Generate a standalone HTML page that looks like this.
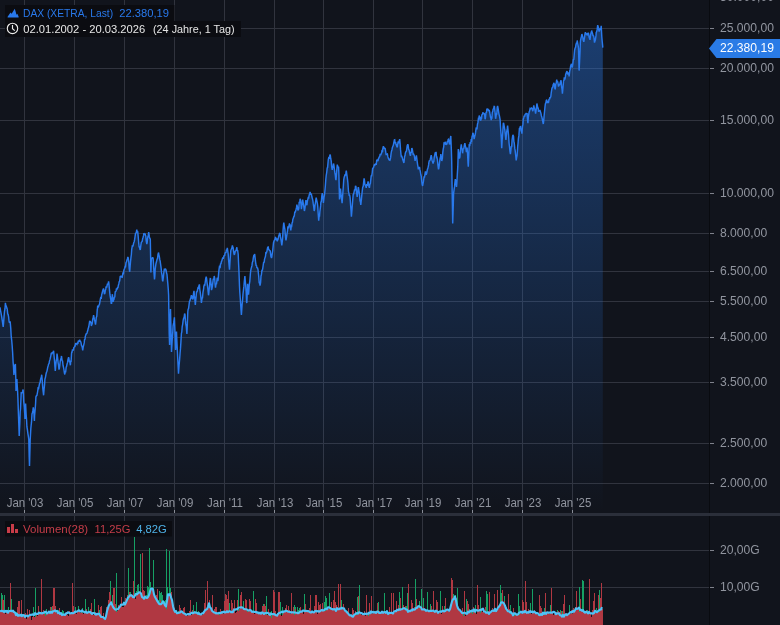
<!DOCTYPE html><html><head><meta charset="utf-8"><title>DAX Chart</title><style>
html,body{margin:0;padding:0;background:#11141c;}
body{width:780px;height:625px;position:relative;overflow:hidden;font-family:"Liberation Sans",sans-serif;}
.hb{position:absolute;background:#0b0c11;}
.t{position:absolute;white-space:nowrap;line-height:1;}
.yl{font-size:12.6px;color:#91959f;left:719.5px;transform:scaleX(0.962);transform-origin:0 0;}
.xl{font-size:12px;color:#91959f;transform:translateX(-50%) scaleX(0.957);top:497.1px;}
.h{font-size:11.2px;}

</style></head><body>
<svg width="780" height="625" viewBox="0 0 780 625" style="position:absolute;left:0;top:0">
<defs><linearGradient id="g" x1="0" y1="0" x2="0" y2="513" gradientUnits="userSpaceOnUse"><stop offset="0" stop-color="#2a7df0" stop-opacity="0.42"/><stop offset="1" stop-color="#2a7df0" stop-opacity="0"/></linearGradient></defs>
<path d="M24.5,0V625 M74.5,0V625 M124.5,0V625 M174.5,0V625 M224.5,0V625 M274.5,0V625 M323.5,0V625 M373.5,0V625 M422.5,0V625 M472.5,0V625 M522.5,0V625 M572.5,0V625 M0,28.5H709 M0,68.5H709 M0,120.5H709 M0,193.5H709 M0,233.5H709 M0,271.5H709 M0,301.5H709 M0,337.5H709 M0,382.5H709 M0,443.5H709 M0,483.5H709 M0,550.5H709 M0,587.5H709" stroke="#31343e" stroke-width="1" fill="none" shape-rendering="crispEdges"/>
<path d="M0.0,307.3 L0.5,310.3 L0.9,312.4 L1.5,315.6 L1.8,317.3 L2.2,320.2 L2.7,323.6 L3.2,327.0 L3.6,322.6 L4.0,317.1 L4.5,311.3 L5.0,308.7 L5.4,302.8 L5.9,306.4 L6.3,306.3 L6.8,307.6 L7.0,309.0 L7.2,308.5 L7.7,313.9 L8.1,314.3 L8.6,316.8 L9.0,320.8 L9.5,322.9 L9.9,322.0 L10.2,322.0 L10.8,328.9 L11.2,336.2 L11.5,338.7 L11.7,340.3 L12.2,346.3 L12.6,352.0 L13.1,362.1 L13.5,366.6 L13.9,375.0 L14.4,370.4 L14.8,365.4 L15.4,364.0 L15.8,378.6 L16.0,391.0 L16.7,382.2 L16.9,379.0 L17.1,383.5 L17.6,391.0 L17.9,398.0 L18.4,413.4 L18.9,426.6 L19.2,436.0 L19.8,423.6 L20.2,411.7 L20.5,409.0 L21.2,393.0 L21.6,393.2 L22.1,392.7 L22.5,391.8 L23.1,389.5 L23.4,394.0 L23.7,401.0 L24.3,407.3 L24.8,414.9 L25.0,419.0 L25.6,403.6 L26.1,414.0 L26.6,420.3 L26.9,426.7 L27.4,429.7 L27.9,433.6 L28.4,436.6 L28.8,439.5 L29.2,457.0 L29.5,466.0 L30.2,440.0 L30.8,429.0 L31.1,425.7 L31.5,422.2 L32.0,414.0 L32.4,412.7 L32.9,410.4 L33.3,407.4 L33.8,411.4 L34.4,421.0 L34.6,415.5 L35.1,410.1 L35.6,403.3 L35.9,397.0 L36.5,395.6 L36.9,395.4 L37.4,392.8 L37.8,390.5 L38.2,387.0 L38.5,389.5 L38.7,387.9 L39.1,385.9 L39.6,383.4 L40.1,382.7 L40.5,379.6 L41.0,378.0 L41.4,376.8 L41.7,374.7 L42.3,380.9 L42.8,388.5 L43.2,391.9 L43.6,395.3 L44.1,389.0 L44.6,384.2 L44.9,379.2 L45.5,377.1 L45.9,374.6 L46.4,372.5 L46.8,371.5 L47.2,370.1 L47.7,367.4 L48.1,366.0 L48.6,364.0 L49.1,363.5 L49.4,361.3 L50.0,359.4 L50.4,357.8 L50.9,355.3 L51.3,352.8 L51.8,354.3 L52.2,352.1 L52.6,353.3 L53.1,352.0 L53.6,350.9 L53.8,352.8 L54.0,355.5 L54.5,360.6 L54.9,366.5 L55.3,371.0 L55.8,365.0 L56.2,361.0 L56.7,358.7 L57.0,353.5 L57.6,357.8 L58.1,362.6 L58.5,365.0 L59.0,369.6 L59.4,368.4 L59.9,364.4 L60.3,360.7 L60.8,359.1 L61.2,357.7 L61.5,356.0 L62.1,360.7 L62.6,361.1 L63.0,365.2 L63.5,367.4 L63.9,369.3 L64.4,372.9 L64.8,374.5 L65.2,371.5 L65.7,371.6 L66.2,367.0 L66.6,366.4 L67.0,364.3 L67.5,362.7 L68.0,359.4 L68.6,357.3 L68.9,358.2 L69.3,361.5 L69.8,361.5 L70.2,364.4 L70.4,365.2 L70.7,361.3 L71.1,361.3 L71.5,353.9 L71.8,351.5 L72.0,352.7 L72.5,349.3 L72.9,350.2 L73.4,350.0 L73.8,347.6 L74.2,347.1 L74.7,346.3 L75.0,346.4 L75.6,343.7 L76.0,343.4 L76.5,343.9 L77.0,344.4 L77.4,343.3 L77.9,343.8 L78.2,341.3 L78.8,341.0 L79.2,341.6 L79.7,339.7 L80.1,341.1 L80.5,341.3 L81.0,342.6 L81.5,345.4 L81.9,346.1 L82.4,348.1 L82.7,350.3 L83.2,347.2 L83.7,345.1 L84.2,342.9 L84.6,339.1 L85.0,339.7 L85.3,336.2 L85.5,335.7 L86.0,334.3 L86.4,333.6 L86.9,333.2 L87.2,332.3 L87.8,330.3 L88.2,328.5 L88.7,327.1 L89.1,324.8 L89.7,320.8 L90.0,321.8 L90.5,321.8 L90.9,322.4 L91.4,326.0 L91.7,324.6 L92.2,324.0 L92.7,319.2 L93.2,317.6 L93.6,315.0 L94.0,317.3 L94.5,320.0 L95.0,321.6 L95.5,324.6 L95.9,321.6 L96.3,317.4 L96.8,316.3 L97.2,310.6 L97.4,309.2 L97.7,305.6 L98.1,307.4 L98.5,306.8 L99.0,305.0 L99.5,304.3 L99.9,301.8 L100.4,298.9 L100.9,296.8 L101.2,298.8 L101.7,294.5 L102.2,293.1 L102.6,290.9 L103.0,290.1 L103.5,288.5 L104.0,291.1 L104.4,294.2 L104.9,293.2 L105.3,290.6 L105.8,288.9 L106.0,286.5 L106.2,286.8 L106.7,287.5 L107.1,285.5 L107.5,283.6 L108.0,284.5 L108.6,281.4 L108.9,283.7 L109.4,289.1 L109.9,294.2 L110.2,296.5 L110.7,299.0 L111.2,303.2 L111.6,303.2 L112.0,297.5 L112.4,294.2 L113.1,301.9 L113.4,300.4 L113.9,299.8 L114.3,297.4 L114.8,297.0 L115.2,291.8 L115.6,291.7 L116.1,290.7 L116.5,288.3 L117.0,289.7 L117.6,287.2 L117.9,288.0 L118.4,285.2 L118.8,283.9 L119.2,281.7 L119.7,281.0 L120.2,276.5 L120.8,276.3 L121.0,275.7 L121.5,276.9 L122.0,276.8 L122.3,277.0 L122.9,272.9 L123.1,272.4 L123.3,274.4 L123.8,270.3 L124.2,269.2 L124.7,268.2 L125.3,266.0 L125.5,267.4 L126.0,262.7 L126.5,262.0 L126.9,260.3 L127.4,258.9 L127.8,257.0 L128.2,257.7 L128.7,261.1 L129.2,268.3 L129.7,271.8 L130.1,266.7 L130.5,261.7 L131.0,257.1 L131.4,254.3 L131.7,249.4 L132.3,245.9 L132.8,246.1 L133.2,245.2 L133.7,242.7 L134.2,241.7 L134.6,239.7 L135.0,237.0 L135.5,233.3 L135.9,232.9 L136.3,232.4 L136.8,229.7 L137.2,232.1 L137.7,231.4 L138.2,236.6 L138.7,243.0 L139.1,246.8 L139.5,246.9 L140.0,249.4 L140.3,250.0 L140.8,245.7 L141.3,242.3 L141.9,241.7 L142.2,241.4 L142.7,238.5 L143.1,237.3 L143.6,235.4 L143.8,233.3 L144.5,234.0 L145.1,234.0 L145.3,234.9 L145.8,236.0 L146.2,240.6 L146.8,244.2 L147.2,242.4 L147.6,238.1 L148.1,236.3 L148.7,232.0 L149.0,234.0 L149.4,236.9 L149.8,238.5 L150.3,239.1 L150.9,272.4 L151.2,262.1 L151.5,258.3 L152.1,258.2 L152.6,257.2 L153.1,258.3 L153.5,263.8 L153.9,271.4 L154.5,279.5 L154.8,276.6 L155.2,269.4 L155.7,265.4 L156.0,263.5 L156.6,261.3 L157.1,259.1 L157.5,258.9 L158.0,254.4 L158.6,252.6 L158.8,254.3 L159.3,256.4 L159.8,259.7 L160.2,261.2 L160.5,263.5 L161.1,267.8 L161.6,272.9 L162.0,275.1 L162.5,280.3 L162.8,281.4 L163.3,277.6 L163.8,272.9 L164.4,268.6 L164.7,270.4 L165.2,268.6 L165.6,269.2 L166.1,270.3 L166.3,271.8 L167.0,274.5 L167.6,281.4 L167.8,283.4 L168.3,289.7 L168.6,295.0 L169.2,333.5 L169.6,345.0 L170.1,324.5 L170.5,309.1 L171.0,330.2 L171.5,352.0 L171.9,345.0 L172.3,338.2 L172.8,331.9 L173.1,325.8 L173.7,322.7 L174.2,319.1 L174.4,317.4 L175.1,335.2 L175.6,350.0 L176.0,344.2 L176.5,331.5 L176.8,339.2 L177.3,349.3 L177.8,360.0 L178.2,367.7 L178.5,373.8 L179.1,365.1 L179.6,359.6 L180.1,352.7 L180.5,348.4 L180.9,342.1 L181.4,333.5 L181.8,331.8 L182.2,326.6 L182.7,324.1 L183.1,320.6 L183.6,318.3 L184.1,317.5 L184.6,313.6 L185.0,314.7 L185.4,320.4 L185.8,323.9 L186.3,327.0 L186.9,334.0 L187.2,327.6 L187.8,311.7 L188.1,309.4 L188.6,308.4 L189.2,303.5 L189.5,301.3 L189.9,300.8 L190.3,299.2 L190.8,297.7 L191.4,295.3 L191.7,295.8 L192.2,298.6 L192.7,299.0 L193.1,298.8 L193.5,293.6 L194.0,290.8 L194.4,295.9 L194.8,298.5 L195.3,304.9 L195.8,299.7 L196.2,295.8 L196.5,292.0 L197.1,291.8 L197.6,289.5 L198.0,287.8 L198.5,288.0 L198.9,286.0 L199.4,284.4 L199.8,289.5 L200.2,291.9 L200.7,295.8 L201.2,300.1 L201.4,303.0 L202.1,298.2 L202.5,297.9 L203.0,292.0 L203.6,288.8 L203.8,286.4 L204.3,284.9 L204.8,285.1 L205.2,282.3 L205.7,278.6 L206.2,276.7 L206.6,278.6 L207.0,282.3 L207.5,285.8 L207.9,289.5 L208.5,295.3 L208.8,293.2 L209.2,289.0 L209.7,284.2 L210.2,278.8 L210.4,278.0 L211.1,284.1 L211.5,290.1 L212.0,288.4 L212.4,286.2 L212.8,282.7 L213.3,278.7 L213.8,279.4 L214.2,276.0 L214.7,278.4 L215.1,284.2 L215.5,287.6 L216.0,283.6 L216.5,284.2 L217.1,278.6 L217.3,277.8 L217.8,281.1 L218.1,280.0 L218.7,272.3 L219.0,269.6 L219.6,265.5 L220.1,268.2 L220.5,263.9 L221.0,263.7 L221.4,261.5 L221.8,261.0 L222.2,259.4 L222.8,257.6 L223.2,258.7 L223.7,256.8 L224.1,255.7 L224.7,255.5 L225.0,253.5 L225.5,252.4 L225.9,253.0 L226.3,250.4 L226.8,250.5 L227.3,247.8 L227.7,250.6 L228.2,254.1 L228.6,259.9 L229.1,265.4 L229.5,269.6 L230.0,261.8 L230.5,254.2 L230.8,250.6 L231.3,249.1 L231.8,248.5 L232.4,245.3 L232.7,247.0 L233.1,247.6 L233.6,251.5 L234.0,253.7 L234.4,254.9 L234.9,252.9 L235.3,251.1 L235.8,250.7 L236.2,249.7 L236.9,247.2 L237.2,250.8 L237.6,250.2 L238.2,254.2 L238.5,261.5 L239.0,272.4 L239.5,286.3 L239.8,292.1 L240.3,298.7 L240.8,306.7 L241.4,315.0 L241.7,310.7 L242.1,304.6 L242.6,299.6 L243.0,294.0 L243.3,291.4 L243.9,286.4 L244.3,281.5 L244.9,276.0 L245.2,280.0 L245.7,285.6 L246.2,292.8 L246.6,302.2 L246.8,303.0 L247.1,297.1 L247.6,283.7 L248.0,288.1 L248.5,294.6 L248.8,291.6 L249.3,284.5 L249.8,281.3 L250.4,273.5 L250.7,270.9 L251.1,268.6 L251.6,267.1 L252.0,265.4 L252.3,262.6 L252.9,261.1 L253.3,257.9 L253.8,255.6 L254.2,255.4 L254.5,254.2 L254.7,254.4 L255.2,258.7 L255.6,262.1 L256.2,265.8 L256.5,265.4 L256.9,268.2 L257.4,267.4 L257.9,269.2 L258.1,270.3 L258.8,277.2 L259.2,282.8 L259.7,283.1 L260.0,285.6 L260.6,282.3 L261.0,276.0 L261.4,274.8 L261.9,270.3 L262.4,270.2 L262.8,268.1 L263.2,265.2 L263.7,261.9 L264.2,262.7 L264.5,259.4 L265.1,257.4 L265.5,256.2 L265.9,252.0 L266.4,252.6 L266.9,251.5 L267.3,249.1 L267.7,247.2 L268.2,247.0 L268.7,249.6 L269.1,249.8 L269.6,250.4 L270.0,250.6 L270.3,251.7 L270.9,256.3 L271.5,258.1 L271.8,256.8 L272.2,253.8 L272.7,250.6 L273.2,245.6 L273.5,242.7 L274.1,240.8 L274.5,240.0 L274.9,239.4 L275.4,237.6 L275.9,238.0 L276.3,239.6 L276.8,239.2 L277.3,241.4 L277.7,239.8 L278.1,239.2 L278.6,236.6 L279.0,235.6 L279.4,233.7 L279.9,233.0 L280.4,236.4 L280.8,238.7 L281.2,240.8 L281.8,245.5 L282.2,242.1 L282.6,238.2 L283.1,229.6 L283.5,225.0 L283.8,222.6 L284.4,226.8 L284.9,229.3 L285.3,234.8 L285.8,239.3 L286.0,240.5 L286.7,235.9 L287.1,233.4 L287.6,230.1 L287.9,226.4 L288.4,228.4 L288.9,226.1 L289.4,224.1 L289.9,224.5 L290.2,225.5 L290.8,230.3 L291.2,227.0 L291.6,226.8 L292.1,222.8 L292.5,222.3 L292.8,219.4 L293.4,218.1 L293.9,216.3 L294.3,216.1 L294.8,211.6 L295.2,212.7 L295.6,211.0 L296.1,209.2 L296.6,207.2 L296.9,204.6 L297.4,207.2 L297.9,209.9 L298.2,210.4 L298.8,208.5 L299.2,201.8 L299.7,203.1 L300.1,198.8 L300.6,200.3 L301.1,205.1 L301.4,209.1 L301.9,205.3 L302.4,201.7 L302.7,199.5 L303.3,203.5 L303.8,206.5 L304.4,211.0 L304.7,209.7 L305.1,207.0 L305.6,202.2 L305.9,200.1 L306.5,204.6 L306.9,205.1 L307.4,201.0 L307.8,199.4 L308.2,197.7 L308.7,197.9 L309.2,194.9 L309.7,193.7 L310.1,192.0 L310.5,193.6 L310.9,194.8 L311.3,193.7 L311.9,197.1 L312.3,198.3 L312.9,200.8 L313.2,203.4 L313.7,206.7 L314.2,211.0 L314.6,209.2 L315.0,205.0 L315.4,202.8 L315.9,199.5 L316.2,197.6 L316.8,200.6 L317.4,203.3 L317.7,205.7 L318.2,213.7 L318.7,220.6 L319.1,216.4 L319.5,216.2 L319.9,211.3 L320.6,205.9 L320.9,202.0 L321.3,201.8 L321.8,196.2 L322.3,193.1 L322.7,196.9 L323.1,199.2 L323.4,203.0 L324.0,197.4 L324.5,195.0 L324.9,190.9 L325.4,185.3 L325.8,179.5 L326.2,175.5 L326.7,172.5 L327.2,168.0 L327.6,167.4 L328.1,161.8 L328.3,159.6 L328.9,157.0 L329.4,158.9 L329.9,154.6 L330.3,155.1 L330.8,159.0 L331.2,160.9 L331.7,166.8 L332.2,169.9 L332.6,167.3 L333.0,167.2 L333.5,163.5 L333.9,165.1 L334.4,169.4 L334.8,172.4 L335.2,174.5 L335.7,179.0 L336.0,180.1 L336.6,172.1 L337.1,166.5 L337.3,164.7 L337.9,166.9 L338.6,167.3 L338.9,174.8 L339.5,199.4 L339.8,197.2 L340.2,190.0 L340.5,188.5 L341.1,194.7 L341.6,198.9 L342.1,203.2 L342.4,198.7 L342.9,192.0 L343.4,185.3 L343.7,180.1 L344.2,177.1 L344.7,176.1 L345.2,174.3 L345.6,175.6 L346.1,171.7 L346.3,170.5 L346.9,175.0 L347.6,180.1 L347.9,183.0 L348.5,191.7 L348.8,192.6 L349.2,195.2 L349.7,195.2 L350.1,197.6 L350.6,205.2 L351.0,209.6 L351.4,216.8 L351.9,210.6 L352.4,204.2 L352.7,200.1 L353.2,194.5 L353.6,194.2 L354.2,191.3 L354.6,189.5 L355.1,190.1 L355.5,185.8 L355.9,186.5 L356.4,190.9 L356.9,194.7 L357.2,196.8 L357.8,191.7 L358.2,187.8 L358.5,187.8 L359.1,191.8 L359.6,195.1 L360.0,200.8 L360.4,201.7 L360.8,205.0 L361.4,199.4 L361.8,195.1 L362.3,190.4 L362.7,187.2 L363.2,186.4 L363.8,180.8 L364.1,178.3 L364.5,180.7 L364.9,184.5 L365.4,185.3 L365.9,186.4 L366.2,187.8 L366.8,184.0 L367.2,185.8 L367.7,183.1 L368.1,181.4 L368.6,183.9 L369.0,186.8 L369.4,187.8 L369.9,184.5 L370.4,183.6 L370.6,181.4 L371.2,175.9 L371.7,175.8 L372.2,172.8 L372.6,168.6 L373.1,168.0 L373.5,167.6 L373.9,166.0 L374.4,164.7 L374.9,165.1 L375.3,164.5 L375.8,163.5 L376.2,164.8 L376.7,160.3 L377.1,160.4 L377.6,159.8 L378.0,161.2 L378.4,158.8 L378.9,157.9 L379.4,156.5 L379.6,157.1 L380.2,154.0 L380.7,155.3 L381.2,153.7 L381.6,152.9 L382.1,149.9 L382.5,152.3 L382.8,148.7 L383.4,146.3 L383.9,148.0 L384.3,148.4 L384.7,148.1 L385.2,148.6 L385.7,151.8 L386.1,154.5 L386.7,154.5 L387.0,154.2 L387.4,154.0 L387.9,156.9 L388.4,158.4 L388.8,159.1 L389.2,160.0 L389.9,160.3 L390.2,159.2 L390.6,157.7 L391.1,153.3 L391.5,151.2 L391.9,150.0 L392.4,147.4 L392.9,146.3 L393.3,145.4 L393.8,142.6 L394.4,139.7 L394.7,139.6 L395.1,143.2 L395.6,142.1 L396.0,144.3 L396.4,145.2 L396.9,146.8 L397.4,146.8 L397.8,143.7 L398.2,141.5 L398.7,143.4 L399.2,140.9 L399.7,139.1 L400.1,143.2 L400.5,149.4 L401.0,154.5 L401.4,157.1 L401.9,156.6 L402.3,157.7 L402.8,159.8 L403.2,160.8 L403.7,162.5 L404.0,162.8 L404.6,156.2 L405.0,155.9 L405.3,153.2 L405.9,151.7 L406.4,151.2 L406.8,148.7 L407.2,145.8 L407.8,144.2 L408.2,145.7 L408.6,149.2 L409.1,150.0 L409.5,152.3 L409.9,154.0 L410.4,155.8 L410.9,152.4 L411.3,152.3 L411.8,148.0 L412.2,148.7 L412.7,151.5 L413.1,154.3 L413.6,154.1 L413.8,154.6 L414.4,156.1 L415.1,161.0 L415.4,158.3 L415.8,158.9 L416.4,155.3 L416.7,157.5 L417.2,161.6 L417.6,164.6 L418.1,167.5 L418.3,169.4 L418.9,167.5 L419.6,167.5 L419.9,169.4 L420.3,171.4 L420.9,175.1 L421.2,176.0 L421.7,181.0 L422.1,184.2 L422.6,186.0 L423.0,183.6 L423.4,181.7 L424.1,176.4 L424.4,177.7 L424.8,175.3 L425.4,171.3 L425.7,173.1 L426.2,175.0 L426.4,173.8 L426.6,173.7 L427.1,171.0 L427.5,169.1 L427.9,168.3 L428.6,164.9 L428.9,162.4 L429.3,160.8 L429.8,160.6 L430.2,159.7 L430.7,157.3 L431.2,155.3 L431.6,156.8 L432.0,160.2 L432.4,161.3 L433.1,163.6 L433.4,162.0 L433.8,161.4 L434.2,157.2 L434.7,155.2 L435.2,153.3 L435.4,152.1 L435.6,153.8 L436.1,151.9 L436.5,157.4 L436.9,157.2 L437.4,159.6 L437.9,164.8 L438.5,169.4 L438.8,168.3 L439.2,165.6 L439.7,161.1 L440.1,158.3 L440.6,156.7 L440.8,154.0 L441.4,158.6 L441.8,161.0 L442.4,158.2 L442.8,152.3 L443.2,149.2 L443.7,146.8 L444.0,143.1 L444.6,143.4 L445.1,142.0 L445.5,142.6 L445.9,145.0 L446.4,144.1 L446.9,144.5 L447.3,141.6 L447.8,141.5 L448.2,139.4 L448.5,139.2 L449.1,142.2 L449.5,144.4 L450.0,142.9 L450.4,138.0 L450.8,136.0 L451.4,151.0 L451.7,161.0 L452.2,193.9 L452.7,223.5 L453.2,207.8 L453.6,193.3 L454.1,189.3 L454.5,186.9 L454.9,182.7 L455.3,179.2 L455.9,182.9 L456.5,186.9 L456.8,183.8 L457.2,176.4 L457.8,166.4 L458.3,149.0 L458.6,151.8 L459.0,153.6 L459.4,158.5 L459.9,157.2 L460.4,151.0 L460.8,147.7 L461.3,144.4 L461.7,148.0 L462.2,149.1 L462.6,153.3 L463.1,148.6 L463.5,149.4 L463.9,148.1 L464.4,144.9 L464.9,143.1 L465.3,145.8 L465.8,147.6 L466.4,152.1 L466.7,150.4 L467.1,147.6 L467.6,154.5 L468.0,162.9 L468.3,166.8 L468.9,152.4 L469.2,145.0 L469.8,145.2 L470.2,142.1 L470.7,144.0 L471.2,139.0 L471.5,141.8 L472.1,136.2 L472.5,136.0 L472.8,132.8 L473.4,134.3 L473.9,137.3 L474.1,139.2 L474.8,136.1 L475.2,134.7 L475.6,132.2 L476.1,128.4 L476.6,128.7 L477.0,128.7 L477.5,124.0 L477.9,122.7 L478.4,118.7 L478.8,118.9 L479.2,115.6 L479.7,117.1 L480.2,117.3 L480.5,120.8 L481.1,119.0 L481.5,118.6 L481.9,114.2 L482.4,114.9 L482.8,112.4 L483.3,113.2 L483.8,113.4 L484.2,113.6 L484.7,115.2 L485.1,119.3 L485.4,118.2 L486.0,112.4 L486.4,112.8 L486.9,108.5 L487.4,110.6 L487.9,109.2 L488.2,109.5 L488.7,110.5 L489.2,109.9 L489.6,111.7 L490.1,115.0 L490.5,117.2 L490.9,118.0 L491.2,120.1 L491.4,117.4 L491.9,117.7 L492.3,112.4 L492.8,111.4 L493.1,109.2 L493.7,108.7 L494.1,106.4 L494.4,106.0 L495.0,111.7 L495.6,118.8 L495.9,117.2 L496.4,113.9 L496.8,113.9 L497.2,107.3 L497.6,106.0 L498.2,108.8 L498.8,113.1 L499.1,114.6 L499.5,116.2 L500.1,119.5 L500.4,125.5 L500.9,132.6 L501.3,138.4 L501.7,148.3 L502.2,139.4 L502.7,132.7 L503.3,123.3 L503.6,122.9 L504.0,125.1 L504.6,128.5 L504.9,130.7 L505.4,135.4 L505.9,140.0 L506.2,136.7 L506.7,131.9 L507.2,128.9 L507.6,125.5 L508.1,130.5 L508.5,134.6 L509.1,143.5 L509.4,146.0 L509.9,150.8 L510.4,154.1 L510.8,150.9 L511.2,146.6 L511.7,146.6 L512.1,139.9 L512.6,136.3 L512.9,134.9 L513.5,136.1 L513.9,141.9 L514.2,142.6 L514.8,148.4 L515.2,150.8 L515.7,155.4 L516.2,160.5 L516.6,157.6 L517.1,155.5 L517.5,149.4 L517.7,146.4 L518.0,143.8 L518.4,138.6 L518.9,135.4 L519.4,128.5 L519.8,128.4 L520.2,126.7 L520.6,126.5 L521.1,130.8 L521.6,130.9 L521.9,133.6 L522.5,126.4 L522.9,124.4 L523.2,119.5 L523.8,117.5 L524.2,115.6 L524.7,116.6 L525.1,114.4 L525.6,114.0 L526.1,113.4 L526.5,113.7 L527.1,113.7 L527.4,117.9 L527.9,123.3 L528.3,117.5 L528.8,114.1 L529.2,111.8 L529.6,111.1 L530.1,108.5 L530.6,108.8 L531.0,108.2 L531.5,107.9 L531.9,108.3 L532.4,109.9 L532.8,111.2 L533.2,109.3 L533.8,105.4 L534.1,107.3 L534.6,108.2 L535.1,110.6 L535.6,113.7 L536.0,111.0 L536.4,108.2 L536.9,103.5 L537.3,105.5 L537.8,108.1 L538.2,108.1 L538.6,111.8 L539.1,110.4 L539.6,111.3 L539.9,109.9 L540.5,112.1 L540.9,113.1 L541.4,115.7 L541.8,116.9 L542.2,118.7 L542.7,121.2 L543.3,124.0 L543.6,121.7 L544.1,115.9 L544.5,111.8 L545.0,106.7 L545.4,103.6 L545.9,102.6 L546.3,100.3 L546.8,99.9 L547.2,103.1 L547.6,101.2 L548.2,102.8 L548.6,102.3 L549.0,98.9 L549.5,99.7 L549.9,97.0 L550.1,98.3 L550.4,97.6 L550.8,96.5 L551.2,92.9 L551.8,89.2 L552.1,87.5 L552.6,88.1 L553.1,85.1 L553.5,85.3 L553.7,82.8 L554.0,83.3 L554.4,84.7 L555.0,89.2 L555.3,88.8 L555.8,83.9 L556.2,83.3 L556.7,79.6 L557.1,81.5 L557.6,81.6 L558.0,83.1 L558.5,86.7 L558.8,85.4 L559.4,84.9 L559.8,84.7 L560.2,82.6 L560.8,80.9 L561.1,80.3 L561.6,86.9 L562.1,89.5 L562.4,93.7 L563.0,87.3 L563.4,83.0 L563.6,80.3 L563.9,80.8 L564.3,77.4 L564.8,79.5 L565.3,77.7 L565.6,74.6 L566.1,73.2 L566.6,71.8 L567.0,71.3 L567.2,71.9 L567.5,73.8 L567.9,74.3 L568.4,73.0 L568.8,73.0 L569.1,76.4 L569.7,71.1 L570.1,69.7 L570.6,66.4 L571.0,64.9 L571.5,63.8 L572.0,66.9 L572.3,67.4 L572.9,63.1 L573.3,59.7 L573.8,59.3 L574.2,54.6 L574.6,50.0 L575.1,48.0 L575.6,47.3 L575.9,45.0 L576.5,42.8 L576.9,43.8 L577.2,40.5 L577.8,43.9 L578.2,46.2 L578.5,48.2 L578.7,55.5 L579.1,70.6 L579.6,60.9 L580.1,50.1 L580.3,43.1 L580.5,40.5 L581.0,38.1 L581.4,36.5 L581.9,34.1 L582.3,35.1 L582.8,37.2 L583.2,40.0 L583.8,41.8 L584.1,40.2 L584.6,36.8 L585.0,34.0 L585.4,32.2 L585.9,33.9 L586.4,34.2 L586.8,33.9 L587.1,35.4 L587.7,34.2 L588.3,32.8 L588.6,33.7 L589.1,37.0 L589.5,38.2 L590.0,39.9 L590.4,36.2 L590.9,33.5 L591.5,31.5 L591.8,31.2 L592.2,32.4 L592.6,33.6 L593.1,36.0 L593.5,35.4 L594.0,37.9 L594.5,42.7 L594.7,41.8 L595.4,39.9 L596.0,35.4 L596.2,32.5 L596.7,31.7 L597.1,29.9 L597.7,25.1 L598.1,26.5 L598.5,28.7 L599.0,31.1 L599.2,31.5 L599.9,29.0 L600.3,29.4 L600.8,29.1 L601.2,25.8 L601.8,36.7 L602.1,40.2 L602.6,45.3 L602.8,47.6 L602.8,513 L0,513 Z" fill="url(#g)"/>
<path d="M0.0,307.3 L0.5,310.3 L0.9,312.4 L1.5,315.6 L1.8,317.3 L2.2,320.2 L2.7,323.6 L3.2,327.0 L3.6,322.6 L4.0,317.1 L4.5,311.3 L5.0,308.7 L5.4,302.8 L5.9,306.4 L6.3,306.3 L6.8,307.6 L7.0,309.0 L7.2,308.5 L7.7,313.9 L8.1,314.3 L8.6,316.8 L9.0,320.8 L9.5,322.9 L9.9,322.0 L10.2,322.0 L10.8,328.9 L11.2,336.2 L11.5,338.7 L11.7,340.3 L12.2,346.3 L12.6,352.0 L13.1,362.1 L13.5,366.6 L13.9,375.0 L14.4,370.4 L14.8,365.4 L15.4,364.0 L15.8,378.6 L16.0,391.0 L16.7,382.2 L16.9,379.0 L17.1,383.5 L17.6,391.0 L17.9,398.0 L18.4,413.4 L18.9,426.6 L19.2,436.0 L19.8,423.6 L20.2,411.7 L20.5,409.0 L21.2,393.0 L21.6,393.2 L22.1,392.7 L22.5,391.8 L23.1,389.5 L23.4,394.0 L23.7,401.0 L24.3,407.3 L24.8,414.9 L25.0,419.0 L25.6,403.6 L26.1,414.0 L26.6,420.3 L26.9,426.7 L27.4,429.7 L27.9,433.6 L28.4,436.6 L28.8,439.5 L29.2,457.0 L29.5,466.0 L30.2,440.0 L30.8,429.0 L31.1,425.7 L31.5,422.2 L32.0,414.0 L32.4,412.7 L32.9,410.4 L33.3,407.4 L33.8,411.4 L34.4,421.0 L34.6,415.5 L35.1,410.1 L35.6,403.3 L35.9,397.0 L36.5,395.6 L36.9,395.4 L37.4,392.8 L37.8,390.5 L38.2,387.0 L38.5,389.5 L38.7,387.9 L39.1,385.9 L39.6,383.4 L40.1,382.7 L40.5,379.6 L41.0,378.0 L41.4,376.8 L41.7,374.7 L42.3,380.9 L42.8,388.5 L43.2,391.9 L43.6,395.3 L44.1,389.0 L44.6,384.2 L44.9,379.2 L45.5,377.1 L45.9,374.6 L46.4,372.5 L46.8,371.5 L47.2,370.1 L47.7,367.4 L48.1,366.0 L48.6,364.0 L49.1,363.5 L49.4,361.3 L50.0,359.4 L50.4,357.8 L50.9,355.3 L51.3,352.8 L51.8,354.3 L52.2,352.1 L52.6,353.3 L53.1,352.0 L53.6,350.9 L53.8,352.8 L54.0,355.5 L54.5,360.6 L54.9,366.5 L55.3,371.0 L55.8,365.0 L56.2,361.0 L56.7,358.7 L57.0,353.5 L57.6,357.8 L58.1,362.6 L58.5,365.0 L59.0,369.6 L59.4,368.4 L59.9,364.4 L60.3,360.7 L60.8,359.1 L61.2,357.7 L61.5,356.0 L62.1,360.7 L62.6,361.1 L63.0,365.2 L63.5,367.4 L63.9,369.3 L64.4,372.9 L64.8,374.5 L65.2,371.5 L65.7,371.6 L66.2,367.0 L66.6,366.4 L67.0,364.3 L67.5,362.7 L68.0,359.4 L68.6,357.3 L68.9,358.2 L69.3,361.5 L69.8,361.5 L70.2,364.4 L70.4,365.2 L70.7,361.3 L71.1,361.3 L71.5,353.9 L71.8,351.5 L72.0,352.7 L72.5,349.3 L72.9,350.2 L73.4,350.0 L73.8,347.6 L74.2,347.1 L74.7,346.3 L75.0,346.4 L75.6,343.7 L76.0,343.4 L76.5,343.9 L77.0,344.4 L77.4,343.3 L77.9,343.8 L78.2,341.3 L78.8,341.0 L79.2,341.6 L79.7,339.7 L80.1,341.1 L80.5,341.3 L81.0,342.6 L81.5,345.4 L81.9,346.1 L82.4,348.1 L82.7,350.3 L83.2,347.2 L83.7,345.1 L84.2,342.9 L84.6,339.1 L85.0,339.7 L85.3,336.2 L85.5,335.7 L86.0,334.3 L86.4,333.6 L86.9,333.2 L87.2,332.3 L87.8,330.3 L88.2,328.5 L88.7,327.1 L89.1,324.8 L89.7,320.8 L90.0,321.8 L90.5,321.8 L90.9,322.4 L91.4,326.0 L91.7,324.6 L92.2,324.0 L92.7,319.2 L93.2,317.6 L93.6,315.0 L94.0,317.3 L94.5,320.0 L95.0,321.6 L95.5,324.6 L95.9,321.6 L96.3,317.4 L96.8,316.3 L97.2,310.6 L97.4,309.2 L97.7,305.6 L98.1,307.4 L98.5,306.8 L99.0,305.0 L99.5,304.3 L99.9,301.8 L100.4,298.9 L100.9,296.8 L101.2,298.8 L101.7,294.5 L102.2,293.1 L102.6,290.9 L103.0,290.1 L103.5,288.5 L104.0,291.1 L104.4,294.2 L104.9,293.2 L105.3,290.6 L105.8,288.9 L106.0,286.5 L106.2,286.8 L106.7,287.5 L107.1,285.5 L107.5,283.6 L108.0,284.5 L108.6,281.4 L108.9,283.7 L109.4,289.1 L109.9,294.2 L110.2,296.5 L110.7,299.0 L111.2,303.2 L111.6,303.2 L112.0,297.5 L112.4,294.2 L113.1,301.9 L113.4,300.4 L113.9,299.8 L114.3,297.4 L114.8,297.0 L115.2,291.8 L115.6,291.7 L116.1,290.7 L116.5,288.3 L117.0,289.7 L117.6,287.2 L117.9,288.0 L118.4,285.2 L118.8,283.9 L119.2,281.7 L119.7,281.0 L120.2,276.5 L120.8,276.3 L121.0,275.7 L121.5,276.9 L122.0,276.8 L122.3,277.0 L122.9,272.9 L123.1,272.4 L123.3,274.4 L123.8,270.3 L124.2,269.2 L124.7,268.2 L125.3,266.0 L125.5,267.4 L126.0,262.7 L126.5,262.0 L126.9,260.3 L127.4,258.9 L127.8,257.0 L128.2,257.7 L128.7,261.1 L129.2,268.3 L129.7,271.8 L130.1,266.7 L130.5,261.7 L131.0,257.1 L131.4,254.3 L131.7,249.4 L132.3,245.9 L132.8,246.1 L133.2,245.2 L133.7,242.7 L134.2,241.7 L134.6,239.7 L135.0,237.0 L135.5,233.3 L135.9,232.9 L136.3,232.4 L136.8,229.7 L137.2,232.1 L137.7,231.4 L138.2,236.6 L138.7,243.0 L139.1,246.8 L139.5,246.9 L140.0,249.4 L140.3,250.0 L140.8,245.7 L141.3,242.3 L141.9,241.7 L142.2,241.4 L142.7,238.5 L143.1,237.3 L143.6,235.4 L143.8,233.3 L144.5,234.0 L145.1,234.0 L145.3,234.9 L145.8,236.0 L146.2,240.6 L146.8,244.2 L147.2,242.4 L147.6,238.1 L148.1,236.3 L148.7,232.0 L149.0,234.0 L149.4,236.9 L149.8,238.5 L150.3,239.1 L150.9,272.4 L151.2,262.1 L151.5,258.3 L152.1,258.2 L152.6,257.2 L153.1,258.3 L153.5,263.8 L153.9,271.4 L154.5,279.5 L154.8,276.6 L155.2,269.4 L155.7,265.4 L156.0,263.5 L156.6,261.3 L157.1,259.1 L157.5,258.9 L158.0,254.4 L158.6,252.6 L158.8,254.3 L159.3,256.4 L159.8,259.7 L160.2,261.2 L160.5,263.5 L161.1,267.8 L161.6,272.9 L162.0,275.1 L162.5,280.3 L162.8,281.4 L163.3,277.6 L163.8,272.9 L164.4,268.6 L164.7,270.4 L165.2,268.6 L165.6,269.2 L166.1,270.3 L166.3,271.8 L167.0,274.5 L167.6,281.4 L167.8,283.4 L168.3,289.7 L168.6,295.0 L169.2,333.5 L169.6,345.0 L170.1,324.5 L170.5,309.1 L171.0,330.2 L171.5,352.0 L171.9,345.0 L172.3,338.2 L172.8,331.9 L173.1,325.8 L173.7,322.7 L174.2,319.1 L174.4,317.4 L175.1,335.2 L175.6,350.0 L176.0,344.2 L176.5,331.5 L176.8,339.2 L177.3,349.3 L177.8,360.0 L178.2,367.7 L178.5,373.8 L179.1,365.1 L179.6,359.6 L180.1,352.7 L180.5,348.4 L180.9,342.1 L181.4,333.5 L181.8,331.8 L182.2,326.6 L182.7,324.1 L183.1,320.6 L183.6,318.3 L184.1,317.5 L184.6,313.6 L185.0,314.7 L185.4,320.4 L185.8,323.9 L186.3,327.0 L186.9,334.0 L187.2,327.6 L187.8,311.7 L188.1,309.4 L188.6,308.4 L189.2,303.5 L189.5,301.3 L189.9,300.8 L190.3,299.2 L190.8,297.7 L191.4,295.3 L191.7,295.8 L192.2,298.6 L192.7,299.0 L193.1,298.8 L193.5,293.6 L194.0,290.8 L194.4,295.9 L194.8,298.5 L195.3,304.9 L195.8,299.7 L196.2,295.8 L196.5,292.0 L197.1,291.8 L197.6,289.5 L198.0,287.8 L198.5,288.0 L198.9,286.0 L199.4,284.4 L199.8,289.5 L200.2,291.9 L200.7,295.8 L201.2,300.1 L201.4,303.0 L202.1,298.2 L202.5,297.9 L203.0,292.0 L203.6,288.8 L203.8,286.4 L204.3,284.9 L204.8,285.1 L205.2,282.3 L205.7,278.6 L206.2,276.7 L206.6,278.6 L207.0,282.3 L207.5,285.8 L207.9,289.5 L208.5,295.3 L208.8,293.2 L209.2,289.0 L209.7,284.2 L210.2,278.8 L210.4,278.0 L211.1,284.1 L211.5,290.1 L212.0,288.4 L212.4,286.2 L212.8,282.7 L213.3,278.7 L213.8,279.4 L214.2,276.0 L214.7,278.4 L215.1,284.2 L215.5,287.6 L216.0,283.6 L216.5,284.2 L217.1,278.6 L217.3,277.8 L217.8,281.1 L218.1,280.0 L218.7,272.3 L219.0,269.6 L219.6,265.5 L220.1,268.2 L220.5,263.9 L221.0,263.7 L221.4,261.5 L221.8,261.0 L222.2,259.4 L222.8,257.6 L223.2,258.7 L223.7,256.8 L224.1,255.7 L224.7,255.5 L225.0,253.5 L225.5,252.4 L225.9,253.0 L226.3,250.4 L226.8,250.5 L227.3,247.8 L227.7,250.6 L228.2,254.1 L228.6,259.9 L229.1,265.4 L229.5,269.6 L230.0,261.8 L230.5,254.2 L230.8,250.6 L231.3,249.1 L231.8,248.5 L232.4,245.3 L232.7,247.0 L233.1,247.6 L233.6,251.5 L234.0,253.7 L234.4,254.9 L234.9,252.9 L235.3,251.1 L235.8,250.7 L236.2,249.7 L236.9,247.2 L237.2,250.8 L237.6,250.2 L238.2,254.2 L238.5,261.5 L239.0,272.4 L239.5,286.3 L239.8,292.1 L240.3,298.7 L240.8,306.7 L241.4,315.0 L241.7,310.7 L242.1,304.6 L242.6,299.6 L243.0,294.0 L243.3,291.4 L243.9,286.4 L244.3,281.5 L244.9,276.0 L245.2,280.0 L245.7,285.6 L246.2,292.8 L246.6,302.2 L246.8,303.0 L247.1,297.1 L247.6,283.7 L248.0,288.1 L248.5,294.6 L248.8,291.6 L249.3,284.5 L249.8,281.3 L250.4,273.5 L250.7,270.9 L251.1,268.6 L251.6,267.1 L252.0,265.4 L252.3,262.6 L252.9,261.1 L253.3,257.9 L253.8,255.6 L254.2,255.4 L254.5,254.2 L254.7,254.4 L255.2,258.7 L255.6,262.1 L256.2,265.8 L256.5,265.4 L256.9,268.2 L257.4,267.4 L257.9,269.2 L258.1,270.3 L258.8,277.2 L259.2,282.8 L259.7,283.1 L260.0,285.6 L260.6,282.3 L261.0,276.0 L261.4,274.8 L261.9,270.3 L262.4,270.2 L262.8,268.1 L263.2,265.2 L263.7,261.9 L264.2,262.7 L264.5,259.4 L265.1,257.4 L265.5,256.2 L265.9,252.0 L266.4,252.6 L266.9,251.5 L267.3,249.1 L267.7,247.2 L268.2,247.0 L268.7,249.6 L269.1,249.8 L269.6,250.4 L270.0,250.6 L270.3,251.7 L270.9,256.3 L271.5,258.1 L271.8,256.8 L272.2,253.8 L272.7,250.6 L273.2,245.6 L273.5,242.7 L274.1,240.8 L274.5,240.0 L274.9,239.4 L275.4,237.6 L275.9,238.0 L276.3,239.6 L276.8,239.2 L277.3,241.4 L277.7,239.8 L278.1,239.2 L278.6,236.6 L279.0,235.6 L279.4,233.7 L279.9,233.0 L280.4,236.4 L280.8,238.7 L281.2,240.8 L281.8,245.5 L282.2,242.1 L282.6,238.2 L283.1,229.6 L283.5,225.0 L283.8,222.6 L284.4,226.8 L284.9,229.3 L285.3,234.8 L285.8,239.3 L286.0,240.5 L286.7,235.9 L287.1,233.4 L287.6,230.1 L287.9,226.4 L288.4,228.4 L288.9,226.1 L289.4,224.1 L289.9,224.5 L290.2,225.5 L290.8,230.3 L291.2,227.0 L291.6,226.8 L292.1,222.8 L292.5,222.3 L292.8,219.4 L293.4,218.1 L293.9,216.3 L294.3,216.1 L294.8,211.6 L295.2,212.7 L295.6,211.0 L296.1,209.2 L296.6,207.2 L296.9,204.6 L297.4,207.2 L297.9,209.9 L298.2,210.4 L298.8,208.5 L299.2,201.8 L299.7,203.1 L300.1,198.8 L300.6,200.3 L301.1,205.1 L301.4,209.1 L301.9,205.3 L302.4,201.7 L302.7,199.5 L303.3,203.5 L303.8,206.5 L304.4,211.0 L304.7,209.7 L305.1,207.0 L305.6,202.2 L305.9,200.1 L306.5,204.6 L306.9,205.1 L307.4,201.0 L307.8,199.4 L308.2,197.7 L308.7,197.9 L309.2,194.9 L309.7,193.7 L310.1,192.0 L310.5,193.6 L310.9,194.8 L311.3,193.7 L311.9,197.1 L312.3,198.3 L312.9,200.8 L313.2,203.4 L313.7,206.7 L314.2,211.0 L314.6,209.2 L315.0,205.0 L315.4,202.8 L315.9,199.5 L316.2,197.6 L316.8,200.6 L317.4,203.3 L317.7,205.7 L318.2,213.7 L318.7,220.6 L319.1,216.4 L319.5,216.2 L319.9,211.3 L320.6,205.9 L320.9,202.0 L321.3,201.8 L321.8,196.2 L322.3,193.1 L322.7,196.9 L323.1,199.2 L323.4,203.0 L324.0,197.4 L324.5,195.0 L324.9,190.9 L325.4,185.3 L325.8,179.5 L326.2,175.5 L326.7,172.5 L327.2,168.0 L327.6,167.4 L328.1,161.8 L328.3,159.6 L328.9,157.0 L329.4,158.9 L329.9,154.6 L330.3,155.1 L330.8,159.0 L331.2,160.9 L331.7,166.8 L332.2,169.9 L332.6,167.3 L333.0,167.2 L333.5,163.5 L333.9,165.1 L334.4,169.4 L334.8,172.4 L335.2,174.5 L335.7,179.0 L336.0,180.1 L336.6,172.1 L337.1,166.5 L337.3,164.7 L337.9,166.9 L338.6,167.3 L338.9,174.8 L339.5,199.4 L339.8,197.2 L340.2,190.0 L340.5,188.5 L341.1,194.7 L341.6,198.9 L342.1,203.2 L342.4,198.7 L342.9,192.0 L343.4,185.3 L343.7,180.1 L344.2,177.1 L344.7,176.1 L345.2,174.3 L345.6,175.6 L346.1,171.7 L346.3,170.5 L346.9,175.0 L347.6,180.1 L347.9,183.0 L348.5,191.7 L348.8,192.6 L349.2,195.2 L349.7,195.2 L350.1,197.6 L350.6,205.2 L351.0,209.6 L351.4,216.8 L351.9,210.6 L352.4,204.2 L352.7,200.1 L353.2,194.5 L353.6,194.2 L354.2,191.3 L354.6,189.5 L355.1,190.1 L355.5,185.8 L355.9,186.5 L356.4,190.9 L356.9,194.7 L357.2,196.8 L357.8,191.7 L358.2,187.8 L358.5,187.8 L359.1,191.8 L359.6,195.1 L360.0,200.8 L360.4,201.7 L360.8,205.0 L361.4,199.4 L361.8,195.1 L362.3,190.4 L362.7,187.2 L363.2,186.4 L363.8,180.8 L364.1,178.3 L364.5,180.7 L364.9,184.5 L365.4,185.3 L365.9,186.4 L366.2,187.8 L366.8,184.0 L367.2,185.8 L367.7,183.1 L368.1,181.4 L368.6,183.9 L369.0,186.8 L369.4,187.8 L369.9,184.5 L370.4,183.6 L370.6,181.4 L371.2,175.9 L371.7,175.8 L372.2,172.8 L372.6,168.6 L373.1,168.0 L373.5,167.6 L373.9,166.0 L374.4,164.7 L374.9,165.1 L375.3,164.5 L375.8,163.5 L376.2,164.8 L376.7,160.3 L377.1,160.4 L377.6,159.8 L378.0,161.2 L378.4,158.8 L378.9,157.9 L379.4,156.5 L379.6,157.1 L380.2,154.0 L380.7,155.3 L381.2,153.7 L381.6,152.9 L382.1,149.9 L382.5,152.3 L382.8,148.7 L383.4,146.3 L383.9,148.0 L384.3,148.4 L384.7,148.1 L385.2,148.6 L385.7,151.8 L386.1,154.5 L386.7,154.5 L387.0,154.2 L387.4,154.0 L387.9,156.9 L388.4,158.4 L388.8,159.1 L389.2,160.0 L389.9,160.3 L390.2,159.2 L390.6,157.7 L391.1,153.3 L391.5,151.2 L391.9,150.0 L392.4,147.4 L392.9,146.3 L393.3,145.4 L393.8,142.6 L394.4,139.7 L394.7,139.6 L395.1,143.2 L395.6,142.1 L396.0,144.3 L396.4,145.2 L396.9,146.8 L397.4,146.8 L397.8,143.7 L398.2,141.5 L398.7,143.4 L399.2,140.9 L399.7,139.1 L400.1,143.2 L400.5,149.4 L401.0,154.5 L401.4,157.1 L401.9,156.6 L402.3,157.7 L402.8,159.8 L403.2,160.8 L403.7,162.5 L404.0,162.8 L404.6,156.2 L405.0,155.9 L405.3,153.2 L405.9,151.7 L406.4,151.2 L406.8,148.7 L407.2,145.8 L407.8,144.2 L408.2,145.7 L408.6,149.2 L409.1,150.0 L409.5,152.3 L409.9,154.0 L410.4,155.8 L410.9,152.4 L411.3,152.3 L411.8,148.0 L412.2,148.7 L412.7,151.5 L413.1,154.3 L413.6,154.1 L413.8,154.6 L414.4,156.1 L415.1,161.0 L415.4,158.3 L415.8,158.9 L416.4,155.3 L416.7,157.5 L417.2,161.6 L417.6,164.6 L418.1,167.5 L418.3,169.4 L418.9,167.5 L419.6,167.5 L419.9,169.4 L420.3,171.4 L420.9,175.1 L421.2,176.0 L421.7,181.0 L422.1,184.2 L422.6,186.0 L423.0,183.6 L423.4,181.7 L424.1,176.4 L424.4,177.7 L424.8,175.3 L425.4,171.3 L425.7,173.1 L426.2,175.0 L426.4,173.8 L426.6,173.7 L427.1,171.0 L427.5,169.1 L427.9,168.3 L428.6,164.9 L428.9,162.4 L429.3,160.8 L429.8,160.6 L430.2,159.7 L430.7,157.3 L431.2,155.3 L431.6,156.8 L432.0,160.2 L432.4,161.3 L433.1,163.6 L433.4,162.0 L433.8,161.4 L434.2,157.2 L434.7,155.2 L435.2,153.3 L435.4,152.1 L435.6,153.8 L436.1,151.9 L436.5,157.4 L436.9,157.2 L437.4,159.6 L437.9,164.8 L438.5,169.4 L438.8,168.3 L439.2,165.6 L439.7,161.1 L440.1,158.3 L440.6,156.7 L440.8,154.0 L441.4,158.6 L441.8,161.0 L442.4,158.2 L442.8,152.3 L443.2,149.2 L443.7,146.8 L444.0,143.1 L444.6,143.4 L445.1,142.0 L445.5,142.6 L445.9,145.0 L446.4,144.1 L446.9,144.5 L447.3,141.6 L447.8,141.5 L448.2,139.4 L448.5,139.2 L449.1,142.2 L449.5,144.4 L450.0,142.9 L450.4,138.0 L450.8,136.0 L451.4,151.0 L451.7,161.0 L452.2,193.9 L452.7,223.5 L453.2,207.8 L453.6,193.3 L454.1,189.3 L454.5,186.9 L454.9,182.7 L455.3,179.2 L455.9,182.9 L456.5,186.9 L456.8,183.8 L457.2,176.4 L457.8,166.4 L458.3,149.0 L458.6,151.8 L459.0,153.6 L459.4,158.5 L459.9,157.2 L460.4,151.0 L460.8,147.7 L461.3,144.4 L461.7,148.0 L462.2,149.1 L462.6,153.3 L463.1,148.6 L463.5,149.4 L463.9,148.1 L464.4,144.9 L464.9,143.1 L465.3,145.8 L465.8,147.6 L466.4,152.1 L466.7,150.4 L467.1,147.6 L467.6,154.5 L468.0,162.9 L468.3,166.8 L468.9,152.4 L469.2,145.0 L469.8,145.2 L470.2,142.1 L470.7,144.0 L471.2,139.0 L471.5,141.8 L472.1,136.2 L472.5,136.0 L472.8,132.8 L473.4,134.3 L473.9,137.3 L474.1,139.2 L474.8,136.1 L475.2,134.7 L475.6,132.2 L476.1,128.4 L476.6,128.7 L477.0,128.7 L477.5,124.0 L477.9,122.7 L478.4,118.7 L478.8,118.9 L479.2,115.6 L479.7,117.1 L480.2,117.3 L480.5,120.8 L481.1,119.0 L481.5,118.6 L481.9,114.2 L482.4,114.9 L482.8,112.4 L483.3,113.2 L483.8,113.4 L484.2,113.6 L484.7,115.2 L485.1,119.3 L485.4,118.2 L486.0,112.4 L486.4,112.8 L486.9,108.5 L487.4,110.6 L487.9,109.2 L488.2,109.5 L488.7,110.5 L489.2,109.9 L489.6,111.7 L490.1,115.0 L490.5,117.2 L490.9,118.0 L491.2,120.1 L491.4,117.4 L491.9,117.7 L492.3,112.4 L492.8,111.4 L493.1,109.2 L493.7,108.7 L494.1,106.4 L494.4,106.0 L495.0,111.7 L495.6,118.8 L495.9,117.2 L496.4,113.9 L496.8,113.9 L497.2,107.3 L497.6,106.0 L498.2,108.8 L498.8,113.1 L499.1,114.6 L499.5,116.2 L500.1,119.5 L500.4,125.5 L500.9,132.6 L501.3,138.4 L501.7,148.3 L502.2,139.4 L502.7,132.7 L503.3,123.3 L503.6,122.9 L504.0,125.1 L504.6,128.5 L504.9,130.7 L505.4,135.4 L505.9,140.0 L506.2,136.7 L506.7,131.9 L507.2,128.9 L507.6,125.5 L508.1,130.5 L508.5,134.6 L509.1,143.5 L509.4,146.0 L509.9,150.8 L510.4,154.1 L510.8,150.9 L511.2,146.6 L511.7,146.6 L512.1,139.9 L512.6,136.3 L512.9,134.9 L513.5,136.1 L513.9,141.9 L514.2,142.6 L514.8,148.4 L515.2,150.8 L515.7,155.4 L516.2,160.5 L516.6,157.6 L517.1,155.5 L517.5,149.4 L517.7,146.4 L518.0,143.8 L518.4,138.6 L518.9,135.4 L519.4,128.5 L519.8,128.4 L520.2,126.7 L520.6,126.5 L521.1,130.8 L521.6,130.9 L521.9,133.6 L522.5,126.4 L522.9,124.4 L523.2,119.5 L523.8,117.5 L524.2,115.6 L524.7,116.6 L525.1,114.4 L525.6,114.0 L526.1,113.4 L526.5,113.7 L527.1,113.7 L527.4,117.9 L527.9,123.3 L528.3,117.5 L528.8,114.1 L529.2,111.8 L529.6,111.1 L530.1,108.5 L530.6,108.8 L531.0,108.2 L531.5,107.9 L531.9,108.3 L532.4,109.9 L532.8,111.2 L533.2,109.3 L533.8,105.4 L534.1,107.3 L534.6,108.2 L535.1,110.6 L535.6,113.7 L536.0,111.0 L536.4,108.2 L536.9,103.5 L537.3,105.5 L537.8,108.1 L538.2,108.1 L538.6,111.8 L539.1,110.4 L539.6,111.3 L539.9,109.9 L540.5,112.1 L540.9,113.1 L541.4,115.7 L541.8,116.9 L542.2,118.7 L542.7,121.2 L543.3,124.0 L543.6,121.7 L544.1,115.9 L544.5,111.8 L545.0,106.7 L545.4,103.6 L545.9,102.6 L546.3,100.3 L546.8,99.9 L547.2,103.1 L547.6,101.2 L548.2,102.8 L548.6,102.3 L549.0,98.9 L549.5,99.7 L549.9,97.0 L550.1,98.3 L550.4,97.6 L550.8,96.5 L551.2,92.9 L551.8,89.2 L552.1,87.5 L552.6,88.1 L553.1,85.1 L553.5,85.3 L553.7,82.8 L554.0,83.3 L554.4,84.7 L555.0,89.2 L555.3,88.8 L555.8,83.9 L556.2,83.3 L556.7,79.6 L557.1,81.5 L557.6,81.6 L558.0,83.1 L558.5,86.7 L558.8,85.4 L559.4,84.9 L559.8,84.7 L560.2,82.6 L560.8,80.9 L561.1,80.3 L561.6,86.9 L562.1,89.5 L562.4,93.7 L563.0,87.3 L563.4,83.0 L563.6,80.3 L563.9,80.8 L564.3,77.4 L564.8,79.5 L565.3,77.7 L565.6,74.6 L566.1,73.2 L566.6,71.8 L567.0,71.3 L567.2,71.9 L567.5,73.8 L567.9,74.3 L568.4,73.0 L568.8,73.0 L569.1,76.4 L569.7,71.1 L570.1,69.7 L570.6,66.4 L571.0,64.9 L571.5,63.8 L572.0,66.9 L572.3,67.4 L572.9,63.1 L573.3,59.7 L573.8,59.3 L574.2,54.6 L574.6,50.0 L575.1,48.0 L575.6,47.3 L575.9,45.0 L576.5,42.8 L576.9,43.8 L577.2,40.5 L577.8,43.9 L578.2,46.2 L578.5,48.2 L578.7,55.5 L579.1,70.6 L579.6,60.9 L580.1,50.1 L580.3,43.1 L580.5,40.5 L581.0,38.1 L581.4,36.5 L581.9,34.1 L582.3,35.1 L582.8,37.2 L583.2,40.0 L583.8,41.8 L584.1,40.2 L584.6,36.8 L585.0,34.0 L585.4,32.2 L585.9,33.9 L586.4,34.2 L586.8,33.9 L587.1,35.4 L587.7,34.2 L588.3,32.8 L588.6,33.7 L589.1,37.0 L589.5,38.2 L590.0,39.9 L590.4,36.2 L590.9,33.5 L591.5,31.5 L591.8,31.2 L592.2,32.4 L592.6,33.6 L593.1,36.0 L593.5,35.4 L594.0,37.9 L594.5,42.7 L594.7,41.8 L595.4,39.9 L596.0,35.4 L596.2,32.5 L596.7,31.7 L597.1,29.9 L597.7,25.1 L598.1,26.5 L598.5,28.7 L599.0,31.1 L599.2,31.5 L599.9,29.0 L600.3,29.4 L600.8,29.1 L601.2,25.8 L601.8,36.7 L602.1,40.2 L602.6,45.3 L602.8,47.6" fill="none" stroke="#2979ec" stroke-width="1.45" stroke-linejoin="miter" stroke-miterlimit="2"/>
<path d="M1.5,593.3V625 M2.5,594.7V625 M4.5,594.6V625 M7.5,609.9V625 M8.5,606.5V625 M11.5,599.3V625 M16.5,612.2V625 M19.5,608.0V625 M22.5,613.6V625 M33.5,606.6V625 M35.5,588.0V625 M44.5,610.5V625 M45.5,612.0V625 M46.5,609.4V625 M51.5,606.6V625 M58.5,610.3V625 M62.5,609.7V625 M63.5,611.0V625 M75.5,606.7V625 M78.5,605.7V625 M82.5,607.5V625 M85.5,598.7V625 M88.5,607.0V625 M94.5,599.2V625 M99.5,610.3V625 M107.5,609.8V625 M110.5,581.0V625 M112.5,594.5V625 M113.5,596.1V625 M114.5,604.4V625 M116.5,573.0V625 M128.5,568.0V625 M130.5,591.5V625 M134.5,537.0V625 M136.5,591.3V625 M137.5,585.3V625 M138.5,584.2V625 M140.5,554.0V625 M146.5,594.6V625 M147.5,586.1V625 M148.5,588.2V625 M148.5,587.2V625 M149.5,547.5V625 M150.5,582.0V625 M153.5,560.0V625 M155.5,596.2V625 M158.5,599.8V625 M159.5,590.5V625 M160.5,592.6V625 M161.5,591.8V625 M162.5,594.7V625 M164.5,601.2V625 M165.5,600.3V625 M166.5,549.0V625 M167.5,587.4V625 M169.5,551.0V625 M170.5,587.7V625 M175.5,611.6V625 M176.5,611.5V625 M178.5,610.6V625 M193.5,605.3V625 M196.5,601.5V625 M198.5,611.0V625 M219.5,611.5V625 M229.5,602.7V625 M238.5,589.2V625 M243.5,600.7V625 M246.5,603.4V625 M247.5,609.5V625 M253.5,590.6V625 M263.5,603.8V625 M266.5,596.0V625 M270.5,612.3V625 M271.5,611.3V625 M274.5,606.6V625 M277.5,613.1V625 M279.5,602.8V625 M280.5,601.6V625 M282.5,606.5V625 M294.5,604.5V625 M295.5,606.5V625 M297.5,607.4V625 M298.5,610.3V625 M299.5,608.1V625 M304.5,594.0V625 M324.5,601.5V625 M325.5,595.6V625 M326.5,598.0V625 M329.5,592.5V625 M341.5,600.4V625 M347.5,611.4V625 M356.5,611.7V625 M357.5,597.3V625 M359.5,585.2V625 M368.5,612.6V625 M378.5,601.6V625 M384.5,592.5V625 M390.5,611.5V625 M399.5,592.0V625 M402.5,587.0V625 M406.5,605.6V625 M407.5,592.7V625 M408.5,595.0V625 M409.5,610.2V625 M415.5,579.3V625 M418.5,604.9V625 M419.5,601.3V625 M421.5,589.0V625 M423.5,598.4V625 M427.5,592.0V625 M430.5,603.6V625 M440.5,590.6V625 M444.5,606.1V625 M453.5,593.9V625 M455.5,595.0V625 M457.5,588.0V625 M463.5,613.3V625 M466.5,599.1V625 M469.5,609.2V625 M470.5,610.3V625 M472.5,612.1V625 M475.5,604.7V625 M480.5,597.4V625 M486.5,591.3V625 M487.5,593.7V625 M499.5,603.6V625 M500.5,585.2V625 M501.5,593.4V625 M504.5,595.9V625 M510.5,605.3V625 M514.5,613.1V625 M518.5,594.3V625 M519.5,606.2V625 M530.5,602.6V625 M532.5,589.2V625 M544.5,608.2V625 M550.5,605.0V625 M557.5,610.1V625 M560.5,610.2V625 M562.5,610.9V625 M568.5,613.0V625 M569.5,604.9V625 M579.5,587.3V625 M582.5,579.8V625 M583.5,580.5V625 M587.5,609.8V625 M596.5,608.4V625 M599.5,589.8V625" stroke="#16a064" stroke-width="1" fill="none" shape-rendering="crispEdges"/>
<path d="M2.5,599.1V625 M3.5,600.2V625 M3.5,609.4V625 M6.5,610.6V625 M10.5,582.5V625 M17.5,607.1V625 M18.5,600.9V625 M19.5,601.4V625 M20.5,613.7V625 M21.5,600.2V625 M24.5,613.9V625 M25.5,612.6V625 M27.5,609.2V625 M29.5,610.0V625 M30.5,613.8V625 M38.5,605.7V625 M41.5,579.0V625 M43.5,610.1V625 M50.5,607.3V625 M52.5,605.7V625 M53.5,588.0V625 M54.5,588.0V625 M55.5,605.7V625 M59.5,608.3V625 M66.5,611.6V625 M69.5,611.4V625 M71.5,613.7V625 M72.5,583.0V625 M73.5,606.1V625 M79.5,611.2V625 M84.5,610.8V625 M86.5,609.2V625 M87.5,611.7V625 M90.5,609.4V625 M91.5,603.1V625 M97.5,612.5V625 M98.5,604.9V625 M100.5,606.8V625 M101.5,605.5V625 M103.5,613.4V625 M105.5,615.6V625 M106.5,606.9V625 M108.5,600.1V625 M109.5,592.4V625 M110.5,594.6V625 M111.5,601.3V625 M113.5,587.7V625 M114.5,588.0V625 M115.5,603.5V625 M118.5,605.0V625 M121.5,596.5V625 M124.5,603.5V625 M125.5,597.6V625 M126.5,600.5V625 M127.5,595.0V625 M129.5,591.6V625 M133.5,580.9V625 M142.5,553.0V625 M143.5,590.1V625 M144.5,591.1V625 M156.5,595.0V625 M157.5,589.4V625 M160.5,600.3V625 M171.5,592.4V625 M174.5,608.2V625 M179.5,605.1V625 M180.5,608.0V625 M181.5,610.7V625 M183.5,607.5V625 M184.5,607.3V625 M188.5,612.8V625 M189.5,611.1V625 M190.5,599.8V625 M192.5,610.4V625 M194.5,611.2V625 M203.5,612.7V625 M204.5,603.1V625 M205.5,590.0V625 M206.5,609.0V625 M207.5,581.2V625 M209.5,599.7V625 M212.5,594.9V625 M213.5,610.9V625 M214.5,608.7V625 M215.5,607.3V625 M216.5,606.7V625 M220.5,608.8V625 M224.5,601.3V625 M225.5,593.7V625 M226.5,595.4V625 M227.5,599.4V625 M228.5,591.4V625 M231.5,599.6V625 M232.5,602.5V625 M233.5,608.1V625 M234.5,599.5V625 M237.5,600.4V625 M240.5,595.2V625 M241.5,592.0V625 M244.5,607.8V625 M245.5,598.9V625 M246.5,600.1V625 M249.5,599.3V625 M250.5,600.9V625 M250.5,607.5V625 M255.5,599.2V625 M256.5,602.5V625 M262.5,606.1V625 M263.5,606.4V625 M264.5,604.3V625 M265.5,606.4V625 M268.5,608.8V625 M272.5,613.9V625 M273.5,590.1V625 M274.5,592.3V625 M275.5,611.1V625 M278.5,591.9V625 M279.5,592.4V625 M283.5,611.4V625 M285.5,607.9V625 M286.5,605.1V625 M287.5,609.5V625 M288.5,605.6V625 M289.5,609.5V625 M291.5,593.3V625 M293.5,607.1V625 M295.5,608.6V625 M300.5,606.6V625 M302.5,611.4V625 M305.5,604.3V625 M309.5,608.3V625 M310.5,594.6V625 M314.5,606.1V625 M315.5,595.2V625 M316.5,598.1V625 M316.5,595.0V625 M318.5,602.2V625 M319.5,604.9V625 M320.5,604.0V625 M321.5,608.8V625 M322.5,603.1V625 M327.5,610.1V625 M331.5,601.6V625 M333.5,599.7V625 M334.5,602.1V625 M334.5,591.4V625 M335.5,602.0V625 M336.5,604.5V625 M338.5,583.9V625 M340.5,583.9V625 M343.5,603.8V625 M348.5,607.5V625 M352.5,608.3V625 M353.5,610.3V625 M353.5,613.7V625 M355.5,610.6V625 M358.5,595.7V625 M363.5,613.6V625 M364.5,610.7V625 M366.5,595.0V625 M367.5,613.0V625 M369.5,603.0V625 M371.5,596.0V625 M377.5,603.2V625 M382.5,610.8V625 M383.5,610.7V625 M387.5,612.6V625 M389.5,607.3V625 M391.5,593.0V625 M393.5,592.7V625 M396.5,601.3V625 M398.5,605.2V625 M400.5,597.7V625 M403.5,604.6V625 M404.5,606.7V625 M405.5,605.7V625 M408.5,583.9V625 M411.5,600.2V625 M412.5,602.8V625 M414.5,607.1V625 M416.5,598.9V625 M417.5,605.5V625 M425.5,610.7V625 M431.5,606.1V625 M433.5,591.4V625 M436.5,600.1V625 M437.5,601.8V625 M437.5,607.0V625 M442.5,605.7V625 M443.5,609.9V625 M445.5,598.4V625 M450.5,605.7V625 M451.5,578.0V625 M452.5,580.0V625 M456.5,597.5V625 M461.5,612.1V625 M462.5,608.1V625 M464.5,590.6V625 M467.5,601.2V625 M468.5,604.0V625 M473.5,606.8V625 M477.5,584.7V625 M478.5,605.1V625 M481.5,607.6V625 M485.5,606.9V625 M488.5,611.3V625 M489.5,592.0V625 M490.5,611.8V625 M492.5,608.1V625 M494.5,594.0V625 M497.5,589.9V625 M502.5,589.9V625 M503.5,601.7V625 M505.5,605.7V625 M508.5,594.0V625 M509.5,608.6V625 M513.5,607.8V625 M522.5,600.2V625 M523.5,602.3V625 M524.5,612.9V625 M525.5,581.2V625 M526.5,601.6V625 M528.5,608.9V625 M534.5,610.3V625 M539.5,594.6V625 M540.5,606.1V625 M541.5,608.4V625 M541.5,607.6V625 M545.5,593.0V625 M551.5,588.0V625 M552.5,613.2V625 M558.5,611.3V625 M559.5,612.1V625 M561.5,611.4V625 M563.5,603.5V625 M564.5,595.0V625 M571.5,609.5V625 M573.5,607.9V625 M575.5,607.0V625 M576.5,591.4V625 M580.5,598.6V625 M589.5,579.3V625 M590.5,613.2V625 M592.5,609.7V625 M593.5,601.4V625 M594.5,593.3V625 M598.5,594.5V625 M600.5,598.1V625 M601.5,583.3V625" stroke="#b03842" stroke-width="1" fill="none" shape-rendering="crispEdges"/>
<path d="M0,625 L0,611.3 L1,611.3 L1,611.1 L2,611.1 L2,609.8 L3,609.8 L3,611.8 L4,611.8 L4,611.9 L5,611.9 L5,613.9 L6,613.9 L6,612.8 L7,612.8 L7,611.6 L8,611.6 L8,612.7 L9,612.7 L9,612.2 L10,612.2 L10,612.0 L11,612.0 L11,612.0 L12,612.0 L12,611.5 L13,611.5 L13,611.9 L14,611.9 L14,610.5 L15,610.5 L15,614.0 L16,614.0 L16,615.3 L17,615.3 L17,615.7 L18,615.7 L18,614.6 L19,614.6 L19,616.6 L20,616.6 L20,617.0 L21,617.0 L21,617.9 L22,617.9 L22,615.8 L23,615.8 L23,615.6 L24,615.6 L24,615.7 L25,615.7 L25,616.6 L26,616.6 L26,619.2 L27,619.2 L27,616.0 L28,616.0 L28,617.1 L29,617.1 L29,616.0 L30,616.0 L30,615.4 L31,615.4 L31,620.0 L32,620.0 L32,616.8 L33,616.8 L33,616.0 L34,616.0 L34,616.7 L35,616.7 L35,616.9 L36,616.9 L36,614.5 L37,614.5 L37,616.2 L38,616.2 L38,612.4 L39,612.4 L39,613.5 L40,613.5 L40,612.8 L41,612.8 L41,613.2 L42,613.2 L42,612.1 L43,612.1 L43,612.5 L44,612.5 L44,614.1 L45,614.1 L45,615.5 L46,615.5 L46,612.3 L47,612.3 L47,612.7 L48,612.7 L48,613.6 L49,613.6 L49,612.4 L50,612.4 L50,611.5 L51,611.5 L51,612.6 L52,612.6 L52,613.9 L53,613.9 L53,613.4 L54,613.4 L54,611.3 L55,611.3 L55,610.5 L56,610.5 L56,612.5 L57,612.5 L57,612.6 L58,612.6 L58,613.2 L59,613.2 L59,612.2 L60,612.2 L60,613.5 L61,613.5 L61,614.7 L62,614.7 L62,614.9 L63,614.9 L63,615.2 L64,615.2 L64,615.0 L65,615.0 L65,615.4 L66,615.4 L66,614.5 L67,614.5 L67,614.8 L68,614.8 L68,615.8 L69,615.8 L69,614.6 L70,614.6 L70,613.6 L71,613.6 L71,615.2 L72,615.2 L72,614.7 L73,614.7 L73,613.2 L74,613.2 L74,611.7 L75,611.7 L75,611.7 L76,611.7 L76,613.7 L77,613.7 L77,612.4 L78,612.4 L78,610.9 L79,610.9 L79,613.8 L80,613.8 L80,613.3 L81,613.3 L81,611.2 L82,611.2 L82,612.9 L83,612.9 L83,614.2 L84,614.2 L84,614.2 L85,614.2 L85,612.3 L86,612.3 L86,611.7 L87,611.7 L87,613.4 L88,613.4 L88,613.4 L89,613.4 L89,611.7 L90,611.7 L90,613.0 L91,613.0 L91,613.0 L92,613.0 L92,612.3 L93,612.3 L93,615.2 L94,615.2 L94,612.9 L95,612.9 L95,612.3 L96,612.3 L96,614.5 L97,614.5 L97,615.2 L98,615.2 L98,616.0 L99,616.0 L99,613.4 L100,613.4 L100,615.6 L101,615.6 L101,615.2 L102,615.2 L102,617.1 L103,617.1 L103,619.5 L104,619.5 L104,619.7 L105,619.7 L105,618.7 L106,618.7 L106,616.2 L107,616.2 L107,612.2 L108,612.2 L108,606.8 L109,606.8 L109,604.4 L110,604.4 L110,604.6 L111,604.6 L111,604.5 L112,604.5 L112,603.8 L113,603.8 L113,606.2 L114,606.2 L114,609.0 L115,609.0 L115,610.6 L116,610.6 L116,612.3 L117,612.3 L117,610.6 L118,610.6 L118,609.2 L119,609.2 L119,607.6 L120,607.6 L120,606.9 L121,606.9 L121,604.2 L122,604.2 L122,607.0 L123,607.0 L123,607.4 L124,607.4 L124,606.5 L125,606.5 L125,603.4 L126,603.4 L126,602.3 L127,602.3 L127,599.1 L128,599.1 L128,600.0 L129,600.0 L129,597.9 L130,597.9 L130,596.3 L131,596.3 L131,593.7 L132,593.7 L132,596.0 L133,596.0 L133,597.4 L134,597.4 L134,596.3 L135,596.3 L135,599.0 L136,599.0 L136,596.0 L137,596.0 L137,594.1 L138,594.1 L138,592.7 L139,592.7 L139,592.9 L140,592.9 L140,591.3 L141,591.3 L141,593.4 L142,593.4 L142,596.9 L143,596.9 L143,599.7 L144,599.7 L144,599.7 L145,599.7 L145,597.7 L146,597.7 L146,596.5 L147,596.5 L147,599.3 L148,599.3 L148,597.2 L149,597.2 L149,596.0 L150,596.0 L150,593.8 L151,593.8 L151,589.6 L152,589.6 L152,588.9 L153,588.9 L153,591.8 L154,591.8 L154,595.6 L155,595.6 L155,598.4 L156,598.4 L156,600.0 L157,600.0 L157,600.7 L158,600.7 L158,603.6 L159,603.6 L159,603.7 L160,603.7 L160,606.9 L161,606.9 L161,603.2 L162,603.2 L162,604.3 L163,604.3 L163,604.1 L164,604.1 L164,604.1 L165,604.1 L165,605.6 L166,605.6 L166,608.5 L167,608.5 L167,600.7 L168,600.7 L168,595.1 L169,595.1 L169,595.4 L170,595.4 L170,596.6 L171,596.6 L171,595.9 L172,595.9 L172,600.4 L173,600.4 L173,606.3 L174,606.3 L174,610.9 L175,610.9 L175,613.4 L176,613.4 L176,614.0 L177,614.0 L177,612.7 L178,612.7 L178,614.4 L179,614.4 L179,613.5 L180,613.5 L180,612.1 L181,612.1 L181,613.1 L182,613.1 L182,612.3 L183,612.3 L183,611.1 L184,611.1 L184,612.5 L185,612.5 L185,615.1 L186,615.1 L186,614.3 L187,614.3 L187,615.5 L188,615.5 L188,615.6 L189,615.6 L189,613.5 L190,613.5 L190,614.6 L191,614.6 L191,614.5 L192,614.5 L192,613.1 L193,613.1 L193,613.5 L194,613.5 L194,613.9 L195,613.9 L195,613.2 L196,613.2 L196,614.3 L197,614.3 L197,613.4 L198,613.4 L198,614.3 L199,614.3 L199,612.8 L200,612.8 L200,615.2 L201,615.2 L201,613.2 L202,613.2 L202,615.1 L203,615.1 L203,614.4 L204,614.4 L204,611.9 L205,611.9 L205,612.7 L206,612.7 L206,611.9 L207,611.9 L207,608.3 L208,608.3 L208,606.2 L209,606.2 L209,607.2 L210,607.2 L210,606.5 L211,606.5 L211,608.2 L212,608.2 L212,610.1 L213,610.1 L213,612.9 L214,612.9 L214,611.5 L215,611.5 L215,613.6 L216,613.6 L216,614.7 L217,614.7 L217,614.1 L218,614.1 L218,613.2 L219,613.2 L219,614.6 L220,614.6 L220,612.2 L221,612.2 L221,613.2 L222,613.2 L222,612.8 L223,612.8 L223,614.3 L224,614.3 L224,610.9 L225,610.9 L225,612.6 L226,612.6 L226,612.4 L227,612.4 L227,613.4 L228,613.4 L228,612.2 L229,612.2 L229,611.1 L230,611.1 L230,613.2 L231,613.2 L231,612.2 L232,612.2 L232,611.9 L233,611.9 L233,611.0 L234,611.0 L234,610.3 L235,610.3 L235,612.5 L236,612.5 L236,612.1 L237,612.1 L237,608.0 L238,608.0 L238,610.5 L239,610.5 L239,608.5 L240,608.5 L240,608.5 L241,608.5 L241,609.5 L242,609.5 L242,608.8 L243,608.8 L243,609.2 L244,609.2 L244,610.6 L245,610.6 L245,609.8 L246,609.8 L246,610.9 L247,610.9 L247,611.7 L248,611.7 L248,611.2 L249,611.2 L249,612.6 L250,612.6 L250,611.8 L251,611.8 L251,611.4 L252,611.4 L252,612.1 L253,612.1 L253,612.4 L254,612.4 L254,613.6 L255,613.6 L255,611.9 L256,611.9 L256,613.6 L257,613.6 L257,612.2 L258,612.2 L258,613.4 L259,613.4 L259,613.0 L260,613.0 L260,613.9 L261,613.9 L261,613.9 L262,613.9 L262,615.1 L263,615.1 L263,614.3 L264,614.3 L264,613.7 L265,613.7 L265,614.2 L266,614.2 L266,615.1 L267,615.1 L267,614.6 L268,614.6 L268,613.4 L269,613.4 L269,612.2 L270,612.2 L270,614.1 L271,614.1 L271,617.7 L272,617.7 L272,615.9 L273,615.9 L273,612.2 L274,612.2 L274,614.7 L275,614.7 L275,614.5 L276,614.5 L276,615.2 L277,615.2 L277,614.9 L278,614.9 L278,614.4 L279,614.4 L279,611.9 L280,611.9 L280,614.7 L281,614.7 L281,615.8 L282,615.8 L282,614.7 L283,614.7 L283,613.2 L284,613.2 L284,612.1 L285,612.1 L285,611.8 L286,611.8 L286,612.0 L287,612.0 L287,611.3 L288,611.3 L288,612.5 L289,612.5 L289,611.5 L290,611.5 L290,614.4 L291,614.4 L291,612.6 L292,612.6 L292,612.8 L293,612.8 L293,614.2 L294,614.2 L294,614.7 L295,614.7 L295,614.7 L296,614.7 L296,613.3 L297,613.3 L297,613.6 L298,613.6 L298,612.1 L299,612.1 L299,613.2 L300,613.2 L300,611.6 L301,611.6 L301,611.3 L302,611.3 L302,614.5 L303,614.5 L303,613.9 L304,613.9 L304,612.1 L305,612.1 L305,610.5 L306,610.5 L306,612.3 L307,612.3 L307,610.1 L308,610.1 L308,611.7 L309,611.7 L309,613.1 L310,613.1 L310,611.0 L311,611.0 L311,612.2 L312,612.2 L312,611.6 L313,611.6 L313,612.9 L314,612.9 L314,612.0 L315,612.0 L315,615.2 L316,615.2 L316,613.3 L317,613.3 L317,614.0 L318,614.0 L318,612.5 L319,612.5 L319,611.6 L320,611.6 L320,612.1 L321,612.1 L321,611.8 L322,611.8 L322,612.9 L323,612.9 L323,610.8 L324,610.8 L324,611.0 L325,611.0 L325,610.8 L326,610.8 L326,609.9 L327,609.9 L327,611.6 L328,611.6 L328,608.5 L329,608.5 L329,608.0 L330,608.0 L330,608.0 L331,608.0 L331,608.0 L332,608.0 L332,608.5 L333,608.5 L333,610.4 L334,610.4 L334,607.8 L335,607.8 L335,610.7 L336,610.7 L336,611.2 L337,611.2 L337,608.3 L338,608.3 L338,611.6 L339,611.6 L339,609.4 L340,609.4 L340,610.5 L341,610.5 L341,608.5 L342,608.5 L342,608.2 L343,608.2 L343,611.1 L344,611.1 L344,609.5 L345,609.5 L345,611.6 L346,611.6 L346,611.9 L347,611.9 L347,613.3 L348,613.3 L348,612.1 L349,612.1 L349,614.6 L350,614.6 L350,614.9 L351,614.9 L351,617.4 L352,617.4 L352,618.6 L353,618.6 L353,617.6 L354,617.6 L354,615.1 L355,615.1 L355,614.6 L356,614.6 L356,614.7 L357,614.7 L357,614.6 L358,614.6 L358,614.1 L359,614.1 L359,612.6 L360,612.6 L360,612.9 L361,612.9 L361,614.5 L362,614.5 L362,614.3 L363,614.3 L363,615.6 L364,615.6 L364,617.2 L365,617.2 L365,615.9 L366,615.9 L366,616.6 L367,616.6 L367,615.1 L368,615.1 L368,615.5 L369,615.5 L369,613.9 L370,613.9 L370,611.2 L371,611.2 L371,615.2 L372,615.2 L372,613.8 L373,613.8 L373,611.7 L374,611.7 L374,612.3 L375,612.3 L375,610.9 L376,610.9 L376,613.4 L377,613.4 L377,611.7 L378,611.7 L378,612.4 L379,612.4 L379,610.9 L380,610.9 L380,611.9 L381,611.9 L381,613.0 L382,613.0 L382,613.2 L383,613.2 L383,612.8 L384,612.8 L384,612.5 L385,612.5 L385,613.0 L386,613.0 L386,614.1 L387,614.1 L387,614.4 L388,614.4 L388,613.7 L389,613.7 L389,614.3 L390,614.3 L390,614.3 L391,614.3 L391,616.0 L392,616.0 L392,613.1 L393,613.1 L393,612.7 L394,612.7 L394,613.1 L395,613.1 L395,611.8 L396,611.8 L396,612.1 L397,612.1 L397,610.2 L398,610.2 L398,611.4 L399,611.4 L399,609.4 L400,609.4 L400,608.8 L401,608.8 L401,608.6 L402,608.6 L402,607.8 L403,607.8 L403,608.4 L404,608.4 L404,611.0 L405,611.0 L405,609.8 L406,609.8 L406,609.4 L407,609.4 L407,611.1 L408,611.1 L408,612.0 L409,612.0 L409,612.3 L410,612.3 L410,610.8 L411,610.8 L411,609.2 L412,609.2 L412,611.3 L413,611.3 L413,610.0 L414,610.0 L414,609.8 L415,609.8 L415,609.3 L416,609.3 L416,608.4 L417,608.4 L417,610.4 L418,610.4 L418,608.1 L419,608.1 L419,607.4 L420,607.4 L420,608.0 L421,608.0 L421,608.1 L422,608.1 L422,609.4 L423,609.4 L423,606.8 L424,606.8 L424,608.3 L425,608.3 L425,612.4 L426,612.4 L426,610.6 L427,610.6 L427,610.8 L428,610.8 L428,611.2 L429,611.2 L429,611.6 L430,611.6 L430,611.9 L431,611.9 L431,610.5 L432,610.5 L432,611.5 L433,611.5 L433,612.7 L434,612.7 L434,612.4 L435,612.4 L435,611.8 L436,611.8 L436,611.9 L437,611.9 L437,609.7 L438,609.7 L438,613.0 L439,613.0 L439,612.8 L440,612.8 L440,611.4 L441,611.4 L441,614.1 L442,614.1 L442,612.9 L443,612.9 L443,612.5 L444,612.5 L444,610.4 L445,610.4 L445,612.4 L446,612.4 L446,610.3 L447,610.3 L447,610.3 L448,610.3 L448,612.0 L449,612.0 L449,610.9 L450,610.9 L450,608.4 L451,608.4 L451,606.7 L452,606.7 L452,603.8 L453,603.8 L453,601.2 L454,601.2 L454,598.2 L455,598.2 L455,596.6 L456,596.6 L456,601.1 L457,601.1 L457,605.8 L458,605.8 L458,609.5 L459,609.5 L459,610.8 L460,610.8 L460,610.6 L461,610.6 L461,613.8 L462,613.8 L462,614.3 L463,614.3 L463,615.6 L464,615.6 L464,613.9 L465,613.9 L465,616.1 L466,616.1 L466,613.0 L467,613.0 L467,613.9 L468,613.9 L468,611.3 L469,611.3 L469,611.3 L470,611.3 L470,613.3 L471,613.3 L471,612.1 L472,612.1 L472,613.6 L473,613.6 L473,612.6 L474,612.6 L474,610.3 L475,610.3 L475,613.2 L476,613.2 L476,614.2 L477,614.2 L477,611.1 L478,611.1 L478,608.5 L479,608.5 L479,610.8 L480,610.8 L480,613.0 L481,613.0 L481,611.4 L482,611.4 L482,612.2 L483,612.2 L483,610.9 L484,610.9 L484,613.4 L485,613.4 L485,613.5 L486,613.5 L486,611.9 L487,611.9 L487,611.8 L488,611.8 L488,614.0 L489,614.0 L489,614.4 L490,614.4 L490,614.5 L491,614.5 L491,612.3 L492,612.3 L492,611.3 L493,611.3 L493,611.0 L494,611.0 L494,612.4 L495,612.4 L495,609.7 L496,609.7 L496,610.3 L497,610.3 L497,610.8 L498,610.8 L498,608.7 L499,608.7 L499,605.8 L500,605.8 L500,604.2 L501,604.2 L501,604.2 L502,604.2 L502,602.7 L503,602.7 L503,603.8 L504,603.8 L504,601.0 L505,601.0 L505,607.5 L506,607.5 L506,607.4 L507,607.4 L507,610.5 L508,610.5 L508,611.0 L509,611.0 L509,611.1 L510,611.1 L510,613.7 L511,613.7 L511,613.9 L512,613.9 L512,614.6 L513,614.6 L513,615.0 L514,615.0 L514,615.8 L515,615.8 L515,614.1 L516,614.1 L516,615.3 L517,615.3 L517,613.6 L518,613.6 L518,614.5 L519,614.5 L519,615.0 L520,615.0 L520,612.1 L521,612.1 L521,613.8 L522,613.8 L522,610.7 L523,610.7 L523,612.8 L524,612.8 L524,614.5 L525,614.5 L525,613.6 L526,613.6 L526,612.5 L527,612.5 L527,612.2 L528,612.2 L528,612.3 L529,612.3 L529,614.1 L530,614.1 L530,610.0 L531,610.0 L531,613.5 L532,613.5 L532,611.6 L533,611.6 L533,612.7 L534,612.7 L534,613.1 L535,613.1 L535,613.2 L536,613.2 L536,613.8 L537,613.8 L537,614.6 L538,614.6 L538,613.7 L539,613.7 L539,615.7 L540,615.7 L540,615.8 L541,615.8 L541,616.5 L542,616.5 L542,614.5 L543,614.5 L543,612.6 L544,612.6 L544,615.0 L545,615.0 L545,614.7 L546,614.7 L546,614.0 L547,614.0 L547,612.8 L548,612.8 L548,612.8 L549,612.8 L549,614.0 L550,614.0 L550,612.3 L551,612.3 L551,614.2 L552,614.2 L552,615.3 L553,615.3 L553,614.7 L554,614.7 L554,613.6 L555,613.6 L555,614.2 L556,614.2 L556,612.2 L557,612.2 L557,612.4 L558,612.4 L558,614.0 L559,614.0 L559,614.0 L560,614.0 L560,612.5 L561,612.5 L561,614.3 L562,614.3 L562,615.3 L563,615.3 L563,616.9 L564,616.9 L564,618.0 L565,618.0 L565,615.2 L566,615.2 L566,613.2 L567,613.2 L567,615.7 L568,615.7 L568,614.5 L569,614.5 L569,614.0 L570,614.0 L570,614.4 L571,614.4 L571,613.5 L572,613.5 L572,613.5 L573,613.5 L573,611.2 L574,611.2 L574,611.0 L575,611.0 L575,609.0 L576,609.0 L576,610.3 L577,610.3 L577,609.8 L578,609.8 L578,609.0 L579,609.0 L579,612.0 L580,612.0 L580,608.9 L581,608.9 L581,610.8 L582,610.8 L582,610.6 L583,610.6 L583,611.1 L584,611.1 L584,612.2 L585,612.2 L585,612.8 L586,612.8 L586,610.4 L587,610.4 L587,613.2 L588,613.2 L588,612.6 L589,612.6 L589,612.6 L590,612.6 L590,615.1 L591,615.1 L591,616.6 L592,616.6 L592,613.8 L593,613.8 L593,614.7 L594,614.7 L594,615.6 L595,615.6 L595,612.5 L596,612.5 L596,612.5 L597,612.5 L597,612.9 L598,612.9 L598,612.4 L599,612.4 L599,612.0 L600,612.0 L600,610.6 L601,610.6 L601,611.3 L602,611.3 L602,609.3 L603,609.3 L603,625 Z" fill="#b03842" shape-rendering="crispEdges"/>
<path d="M0.0,611.4 L1.0,610.8 L2.0,611.2 L3.0,610.9 L4.0,612.2 L5.0,610.8 L6.0,611.8 L7.0,610.8 L8.0,612.7 L9.0,611.0 L10.0,611.0 L11.0,610.7 L12.0,611.3 L13.0,610.6 L14.0,612.1 L15.0,612.5 L16.0,615.1 L17.0,613.9 L18.0,615.9 L19.0,615.1 L20.0,615.7 L21.0,614.6 L22.0,616.1 L23.0,615.0 L24.0,615.3 L25.0,616.8 L26.0,615.6 L27.0,615.7 L28.0,616.5 L29.0,615.5 L30.0,614.7 L31.0,614.9 L32.0,614.6 L33.0,614.4 L34.0,615.2 L35.0,613.1 L36.0,614.0 L37.0,613.9 L38.0,613.9 L39.0,612.5 L40.0,613.2 L41.0,613.1 L42.0,613.5 L43.0,612.9 L44.0,612.8 L45.0,611.9 L46.0,611.7 L47.0,613.5 L48.0,612.8 L49.0,611.5 L50.0,612.8 L51.0,611.9 L52.0,612.8 L53.0,611.2 L54.0,610.9 L55.0,610.4 L56.0,611.5 L57.0,610.9 L58.0,613.1 L59.0,612.3 L60.0,613.9 L61.0,613.0 L62.0,615.1 L63.0,614.5 L64.0,614.5 L65.0,615.0 L66.0,613.4 L67.0,613.4 L68.0,612.3 L69.0,612.7 L70.0,613.5 L71.0,613.1 L72.0,613.1 L73.0,613.2 L74.0,612.9 L75.0,611.6 L76.0,611.9 L77.0,611.5 L78.0,610.8 L79.0,610.3 L80.0,611.2 L81.0,611.6 L82.0,610.3 L83.0,611.4 L84.0,611.8 L85.0,612.5 L86.0,611.5 L87.0,612.9 L88.0,612.3 L89.0,612.1 L90.0,611.7 L91.0,613.0 L92.0,614.0 L93.0,613.0 L94.0,613.0 L95.0,613.9 L96.0,614.6 L97.0,613.7 L98.0,614.2 L99.0,613.5 L100.0,615.2 L101.0,616.9 L102.0,617.0 L103.0,617.0 L104.0,618.1 L105.0,619.1 L106.0,616.3 L107.0,611.3 L108.0,607.9 L109.0,605.2 L110.0,604.2 L111.0,602.4 L112.0,604.7 L113.0,606.9 L114.0,608.3 L115.0,609.4 L116.0,609.6 L117.0,609.2 L118.0,609.1 L119.0,607.6 L120.0,606.6 L121.0,604.5 L122.0,604.7 L123.0,604.7 L124.0,602.6 L125.0,604.5 L126.0,602.4 L127.0,599.8 L128.0,597.6 L129.0,596.7 L130.0,595.3 L131.0,595.4 L132.0,595.5 L133.0,597.1 L134.0,597.3 L135.0,595.5 L136.0,593.8 L137.0,594.4 L138.0,593.3 L139.0,592.4 L140.0,592.3 L141.0,593.5 L142.0,597.0 L143.0,597.6 L144.0,598.7 L145.0,596.5 L146.0,597.7 L147.0,597.9 L148.0,597.0 L149.0,595.1 L150.0,591.4 L151.0,588.8 L152.0,588.4 L153.0,589.2 L154.0,594.4 L155.0,597.0 L156.0,598.8 L157.0,600.6 L158.0,602.1 L159.0,603.7 L160.0,604.2 L161.0,604.1 L162.0,603.2 L163.0,601.3 L164.0,603.0 L165.0,605.3 L166.0,606.5 L167.0,600.9 L168.0,594.2 L169.0,594.9 L170.0,594.1 L171.0,597.3 L172.0,600.0 L173.0,606.2 L174.0,609.9 L175.0,611.9 L176.0,610.9 L177.0,613.3 L178.0,613.0 L179.0,612.7 L180.0,612.5 L181.0,611.4 L182.0,611.6 L183.0,612.7 L184.0,613.5 L185.0,613.7 L186.0,614.7 L187.0,614.4 L188.0,614.0 L189.0,614.1 L190.0,614.4 L191.0,613.2 L192.0,612.6 L193.0,613.3 L194.0,612.7 L195.0,612.3 L196.0,612.8 L197.0,612.8 L198.0,613.9 L199.0,613.2 L200.0,614.4 L201.0,614.4 L202.0,613.4 L203.0,613.3 L204.0,612.0 L205.0,610.4 L206.0,609.6 L207.0,609.1 L208.0,606.8 L209.0,603.2 L210.0,607.2 L211.0,608.2 L212.0,610.8 L213.0,611.6 L214.0,612.4 L215.0,612.7 L216.0,613.4 L217.0,613.1 L218.0,613.5 L219.0,612.8 L220.0,613.0 L221.0,613.1 L222.0,612.1 L223.0,612.4 L224.0,611.5 L225.0,612.5 L226.0,612.2 L227.0,611.2 L228.0,612.1 L229.0,611.3 L230.0,611.3 L231.0,612.3 L232.0,611.9 L233.0,612.1 L234.0,609.8 L235.0,609.6 L236.0,609.4 L237.0,609.3 L238.0,608.2 L239.0,607.5 L240.0,607.5 L241.0,607.4 L242.0,607.3 L243.0,608.0 L244.0,609.0 L245.0,609.3 L246.0,609.3 L247.0,609.6 L248.0,610.2 L249.0,610.5 L250.0,609.9 L251.0,610.5 L252.0,611.9 L253.0,611.6 L254.0,611.9 L255.0,612.0 L256.0,611.8 L257.0,612.6 L258.0,612.4 L259.0,613.4 L260.0,612.7 L261.0,613.7 L262.0,612.4 L263.0,612.8 L264.0,614.0 L265.0,613.0 L266.0,613.0 L267.0,612.7 L268.0,613.1 L269.0,614.1 L270.0,614.8 L271.0,613.6 L272.0,613.9 L273.0,614.2 L274.0,613.9 L275.0,614.7 L276.0,615.2 L277.0,615.6 L278.0,613.9 L279.0,612.9 L280.0,612.8 L281.0,612.4 L282.0,611.5 L283.0,612.3 L284.0,611.2 L285.0,611.6 L286.0,610.6 L287.0,611.0 L288.0,611.7 L289.0,611.8 L290.0,612.0 L291.0,612.6 L292.0,612.1 L293.0,612.5 L294.0,612.4 L295.0,612.5 L296.0,612.7 L297.0,612.7 L298.0,613.2 L299.0,612.8 L300.0,611.8 L301.0,611.4 L302.0,611.7 L303.0,610.5 L304.0,610.6 L305.0,611.2 L306.0,610.7 L307.0,611.1 L308.0,611.0 L309.0,611.5 L310.0,612.2 L311.0,612.6 L312.0,611.4 L313.0,612.2 L314.0,612.4 L315.0,611.1 L316.0,610.9 L317.0,611.5 L318.0,611.0 L319.0,611.7 L320.0,611.3 L321.0,610.4 L322.0,609.9 L323.0,610.6 L324.0,610.3 L325.0,609.2 L326.0,608.5 L327.0,609.2 L328.0,607.2 L329.0,607.3 L330.0,607.9 L331.0,608.7 L332.0,609.0 L333.0,609.5 L334.0,609.1 L335.0,609.3 L336.0,610.8 L337.0,608.1 L338.0,609.2 L339.0,609.2 L340.0,608.3 L341.0,608.8 L342.0,607.7 L343.0,608.5 L344.0,608.4 L345.0,610.6 L346.0,611.2 L347.0,612.5 L348.0,613.3 L349.0,614.7 L350.0,615.5 L351.0,615.1 L352.0,616.2 L353.0,616.7 L354.0,615.1 L355.0,614.3 L356.0,613.4 L357.0,613.4 L358.0,613.5 L359.0,612.2 L360.0,612.6 L361.0,613.1 L362.0,613.2 L363.0,614.1 L364.0,614.1 L365.0,613.5 L366.0,614.2 L367.0,613.5 L368.0,613.9 L369.0,612.7 L370.0,613.3 L371.0,611.4 L372.0,612.7 L373.0,611.9 L374.0,612.5 L375.0,612.0 L376.0,613.0 L377.0,611.6 L378.0,611.5 L379.0,613.0 L380.0,612.8 L381.0,612.9 L382.0,611.6 L383.0,612.8 L384.0,612.2 L385.0,612.0 L386.0,612.9 L387.0,611.1 L388.0,614.0 L389.0,613.1 L390.0,613.0 L391.0,612.9 L392.0,612.9 L393.0,613.5 L394.0,611.8 L395.0,611.0 L396.0,611.3 L397.0,609.8 L398.0,610.1 L399.0,609.2 L400.0,609.7 L401.0,609.2 L402.0,609.3 L403.0,608.5 L404.0,608.1 L405.0,608.6 L406.0,609.5 L407.0,609.6 L408.0,611.9 L409.0,610.8 L410.0,611.3 L411.0,610.3 L412.0,610.6 L413.0,609.1 L414.0,609.8 L415.0,609.5 L416.0,608.0 L417.0,607.9 L418.0,606.3 L419.0,606.2 L420.0,606.9 L421.0,607.4 L422.0,609.5 L423.0,609.5 L424.0,609.2 L425.0,609.7 L426.0,610.8 L427.0,610.2 L428.0,610.6 L429.0,611.3 L430.0,610.8 L431.0,611.0 L432.0,610.9 L433.0,610.6 L434.0,611.2 L435.0,611.9 L436.0,610.7 L437.0,611.2 L438.0,612.8 L439.0,611.9 L440.0,611.4 L441.0,611.9 L442.0,611.1 L443.0,610.6 L444.0,611.4 L445.0,611.1 L446.0,610.2 L447.0,609.5 L448.0,609.6 L449.0,610.8 L450.0,609.2 L451.0,605.3 L452.0,601.4 L453.0,599.3 L454.0,598.9 L455.0,596.4 L456.0,600.5 L457.0,605.5 L458.0,608.2 L459.0,609.6 L460.0,610.1 L461.0,611.7 L462.0,612.9 L463.0,613.1 L464.0,612.8 L465.0,612.8 L466.0,613.6 L467.0,613.8 L468.0,611.7 L469.0,612.4 L470.0,611.0 L471.0,611.4 L472.0,610.4 L473.0,611.1 L474.0,609.4 L475.0,611.7 L476.0,609.9 L477.0,610.2 L478.0,610.7 L479.0,610.5 L480.0,609.7 L481.0,610.2 L482.0,609.4 L483.0,608.6 L484.0,611.4 L485.0,611.7 L486.0,612.7 L487.0,612.8 L488.0,612.3 L489.0,613.9 L490.0,612.4 L491.0,611.8 L492.0,610.8 L493.0,610.8 L494.0,611.0 L495.0,608.8 L496.0,611.1 L497.0,609.5 L498.0,607.8 L499.0,606.3 L500.0,605.5 L501.0,602.5 L502.0,602.2 L503.0,602.5 L504.0,603.6 L505.0,605.7 L506.0,608.7 L507.0,609.9 L508.0,611.3 L509.0,611.3 L510.0,612.4 L511.0,612.1 L512.0,613.3 L513.0,615.4 L514.0,613.3 L515.0,613.3 L516.0,614.2 L517.0,614.9 L518.0,614.4 L519.0,612.8 L520.0,612.4 L521.0,611.6 L522.0,612.9 L523.0,611.6 L524.0,612.3 L525.0,610.9 L526.0,612.1 L527.0,612.8 L528.0,612.0 L529.0,612.6 L530.0,611.0 L531.0,612.1 L532.0,611.5 L533.0,612.4 L534.0,611.5 L535.0,612.1 L536.0,613.4 L537.0,613.0 L538.0,613.5 L539.0,614.8 L540.0,615.2 L541.0,614.0 L542.0,615.0 L543.0,612.5 L544.0,614.0 L545.0,612.6 L546.0,613.9 L547.0,612.3 L548.0,612.6 L549.0,612.5 L550.0,612.6 L551.0,612.5 L552.0,612.8 L553.0,612.1 L554.0,611.8 L555.0,612.6 L556.0,614.2 L557.0,613.4 L558.0,613.5 L559.0,613.4 L560.0,615.1 L561.0,615.3 L562.0,616.7 L563.0,614.9 L564.0,616.6 L565.0,614.8 L566.0,614.2 L567.0,615.2 L568.0,614.3 L569.0,613.5 L570.0,612.6 L571.0,612.0 L572.0,612.3 L573.0,610.8 L574.0,611.7 L575.0,610.1 L576.0,608.3 L577.0,609.0 L578.0,608.4 L579.0,607.7 L580.0,609.9 L581.0,609.9 L582.0,610.8 L583.0,610.1 L584.0,611.9 L585.0,612.6 L586.0,611.7 L587.0,612.2 L588.0,613.4 L589.0,611.9 L590.0,613.1 L591.0,613.4 L592.0,613.4 L593.0,613.6 L594.0,613.0 L595.0,610.8 L596.0,611.8 L597.0,612.2 L598.0,611.1 L599.0,610.3 L600.0,609.7 L601.0,609.5 L602.0,607.2" fill="none" stroke="#4fc3f7" stroke-width="2.1" stroke-linejoin="round"/>
<rect x="709" y="0" width="1" height="625" fill="#090b10"/>
<rect x="0" y="513" width="780" height="3" fill="#2b2f3a"/>
<path d="M710,28.5H714 M710,68.5H714 M710,120.5H714 M710,193.5H714 M710,233.5H714 M710,271.5H714 M710,301.5H714 M710,337.5H714 M710,382.5H714 M710,443.5H714 M710,483.5H714 M710,550.5H714 M710,587.5H714" stroke="#7f828c" stroke-width="1" fill="none" shape-rendering="crispEdges"/>
<path d="M24.5,509.5V513 M74.5,509.5V513 M124.5,509.5V513 M174.5,509.5V513 M224.5,509.5V513 M274.5,509.5V513 M323.5,509.5V513 M373.5,509.5V513 M422.5,509.5V513 M472.5,509.5V513 M522.5,509.5V513 M572.5,509.5V513" stroke="#8a8e98" stroke-width="1" fill="none" shape-rendering="crispEdges"/>
<path d="M709,48.5 L716.5,39 H780 V58 H716.5 Z" fill="#2a7be6"/>
<rect x="5" y="5" width="169.4" height="16" fill="#0b0c11"/><rect x="5" y="21" width="236" height="16" fill="#0b0c11"/><rect x="5" y="521" width="167" height="15.5" fill="#0b0c11"/>
<path d="M7.6,17.4 L7.6,16.7 L10.5,12.4 L11.6,13.7 L14.8,8.7 L16.5,14.7 L17.3,13.8 L18.6,16.5 L18.6,17.4 Z" fill="#2979ec"/>
<circle cx="12.5" cy="28.4" r="5.2" fill="none" stroke="#ebebeb" stroke-width="1.15"/><path d="M12.5,25.1V28.7L14.8,30.6" fill="none" stroke="#ebebeb" stroke-width="1.15"/>
<path d="M7,533V527H10V533Z M11,533V524H14V533Z M15,533V529H18V533Z" fill="#c83c48"/>
</svg>
<div class="t xl" style="left:25.2px">Jan '03</div>
<div class="t xl" style="left:75.2px">Jan '05</div>
<div class="t xl" style="left:125.2px">Jan '07</div>
<div class="t xl" style="left:175.2px">Jan '09</div>
<div class="t xl" style="left:225.2px">Jan '11</div>
<div class="t xl" style="left:275.2px">Jan '13</div>
<div class="t xl" style="left:324.2px">Jan '15</div>
<div class="t xl" style="left:374.2px">Jan '17</div>
<div class="t xl" style="left:423.2px">Jan '19</div>
<div class="t xl" style="left:473.2px">Jan '21</div>
<div class="t xl" style="left:523.2px">Jan '23</div>
<div class="t xl" style="left:573.2px">Jan '25</div>
<div class="t yl" style="top:-8.9px">30.000,00</div>
<div class="t yl" style="top:22.1px">25.000,00</div>
<div class="t yl" style="top:62.1px">20.000,00</div>
<div class="t yl" style="top:114.1px">15.000,00</div>
<div class="t yl" style="top:187.1px">10.000,00</div>
<div class="t yl" style="top:227.1px">8.000,00</div>
<div class="t yl" style="top:265.1px">6.500,00</div>
<div class="t yl" style="top:295.1px">5.500,00</div>
<div class="t yl" style="top:331.1px">4.500,00</div>
<div class="t yl" style="top:376.1px">3.500,00</div>
<div class="t yl" style="top:437.1px">2.500,00</div>
<div class="t yl" style="top:477.1px">2.000,00</div>
<div class="t yl" style="top:544.1px">20,00G</div>
<div class="t yl" style="top:581.1px">10,00G</div>
<div class="t" style="left:720px;top:42.1px;font-size:12.6px;color:#fff;transform:scaleX(0.962);transform-origin:0 0">22.380,19</div>
<div class="t h" style="left:23.3px;top:8.1px;color:#2979ec;transform:scaleX(0.917);transform-origin:0 0">DAX (XETRA, Last)</div>
<div class="t h" style="left:119.3px;top:8.1px;color:#2979ec">22.380,19</div>
<div class="t h" style="left:23.3px;top:24.0px;color:#e6e6e6">02.01.2002 - 20.03.2026</div>
<div class="t h" style="left:152.7px;top:24.0px;color:#e6e6e6;transform:scaleX(0.967);transform-origin:0 0">(24 Jahre, 1 Tag)</div>
<div class="t h" style="left:23.1px;top:524.3px;color:#c43d49;transform:scaleX(1.027);transform-origin:0 0">Volumen(28)</div>
<div class="t h" style="left:94.6px;top:524.3px;color:#c43d49">11,25G</div>
<div class="t h" style="left:136.2px;top:524.3px;color:#4fb3e8">4,82G</div>
</body></html>
